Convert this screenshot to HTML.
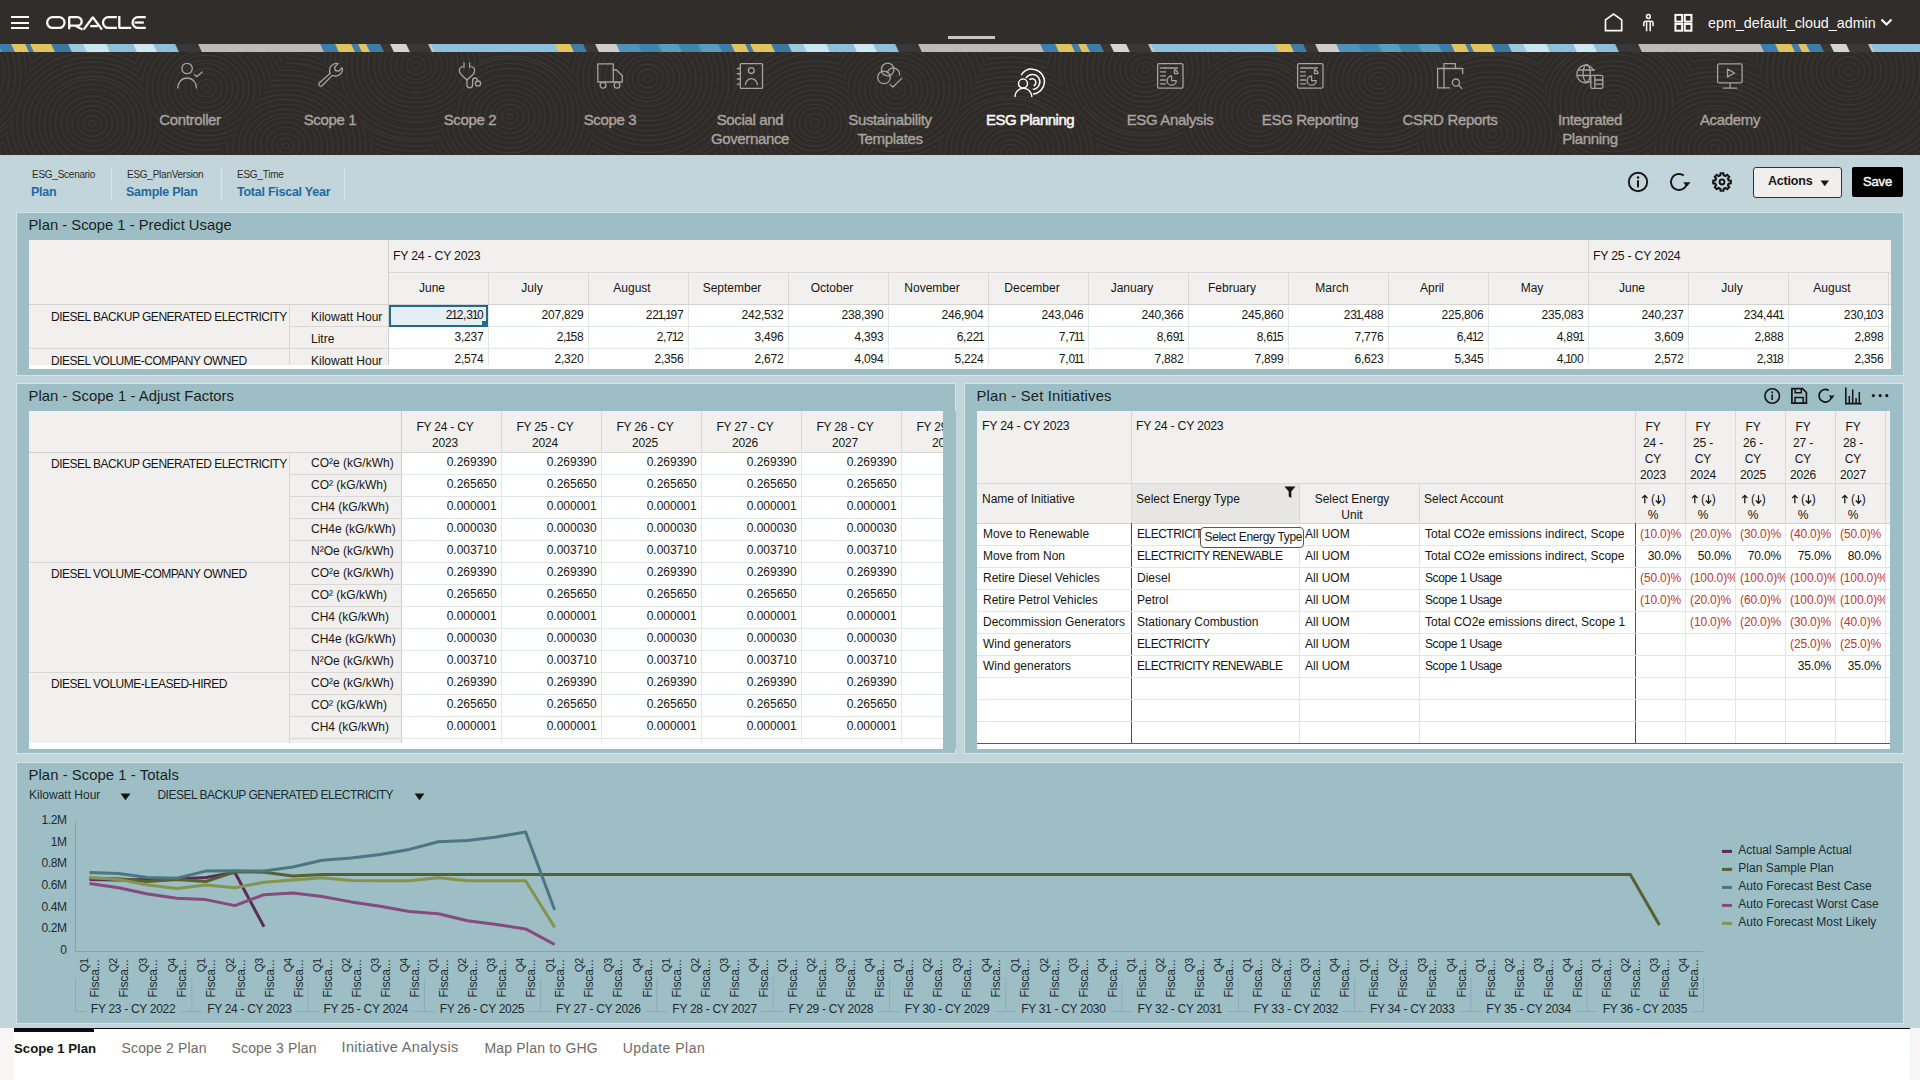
<!DOCTYPE html>
<html><head><meta charset="utf-8"><title>ESG Planning</title>
<style>
html,body{margin:0;padding:0;}
body{width:1920px;height:1080px;overflow:hidden;position:relative;background:#c1d5da;font-family:"Liberation Sans", sans-serif;color:#161513;}
.t{position:absolute;white-space:nowrap;}
.r{position:absolute;}
svg.r{overflow:visible;}
</style></head><body>
<div class="r" style="left:0px;top:0px;width:1920px;height:44px;background:#312d2a;"></div><div class="r" style="left:11px;top:16px;width:18px;height:2px;background:#fbf9f8;"></div><div class="r" style="left:11px;top:21.5px;width:18px;height:2px;background:#fbf9f8;"></div><div class="r" style="left:11px;top:27px;width:18px;height:2px;background:#fbf9f8;"></div><svg class="r" style="left:46px;top:16px;" width="100" height="14" viewBox="0 0 100 14"><g fill="none" stroke="#fbf9f8" stroke-width="2.3" stroke-linejoin="bevel">
<rect x="1.15" y="1.15" width="17.4" height="10.8" rx="5.4"/>
<path d="M23.2,13.2 V1.15 H31.4 A4.25,4.25 0 0 1 31.4,9.65 H24"/>
<path d="M29.3,9.65 L36.6,13.4"/>
<path d="M37.6,13.6 L46.8,1.3 L56,13.6"/>
<path d="M44.2,10.1 H51.8"/>
<path d="M70.9,1.15 H62.4 A5.4,5.4 0 0 0 62.4,11.95 H70.9"/>
<path d="M73.3,0 V11.95 H85.2"/>
<path d="M99.8,1.15 H92 A5.4,5.4 0 0 0 92,11.95 H99.8"/>
<path d="M88.6,6.55 H97.8"/>
</g></svg><div class="r" style="left:948px;top:36px;width:47px;height:3px;background:#c9c5c1;"></div><svg class="r" style="left:1603px;top:13px;" width="21" height="19" viewBox="0 0 21 19"><path d="M2.5,6.9 L10.6,1 L18.7,6.9 V17.6 H2.5 Z" fill="none" stroke="#fbf9f8" stroke-width="1.7" stroke-linejoin="miter"/></svg><svg class="r" style="left:1641px;top:13px;" width="14" height="19" viewBox="0 0 14 19"><g fill="none" stroke="#fbf9f8" stroke-width="1.5"><circle cx="7.4" cy="3.5" r="1.9"/><path d="M2.8,13.2 V10 A1.8,1.8 0 0 1 4.6,8.2 H10.2 A1.8,1.8 0 0 1 12,10 V13.2"/><path d="M5.6,8.5 V18.3 M9.2,8.5 V18.3"/></g></svg><svg class="r" style="left:1674px;top:13px;" width="19" height="19" viewBox="0 0 19 19"><g fill="none" stroke="#fbf9f8" stroke-width="2"><rect x="1.4" y="1.9" width="6.7" height="6.7"/><rect x="10.75" y="1.9" width="6.7" height="6.7"/><rect x="1.4" y="11" width="6.7" height="6.7"/><rect x="10.75" y="11" width="6.7" height="6.7"/></g></svg><div class="t" style="top:14.77px;font-size:14.3px;line-height:17.16px;color:#fbf9f8;left:1708px;">epm_default_cloud_admin</div><svg class="r" style="left:1880px;top:18px;" width="13" height="9" viewBox="0 0 13 9"><path d="M1.5,1.5 L6.5,6.5 L11.5,1.5" fill="none" stroke="#fbf9f8" stroke-width="2.2"/></svg><div class="r" style="left:0;top:44px;width:1920px;height:8px;overflow:hidden;"><div class="r" style="left:-10px;top:0;width:1940px;height:8px;transform:skewX(25deg);background:linear-gradient(90deg,#3d7ea8 0px,#3d7ea8 13px,#e0c35e 13px,#e0c35e 27px,#3d7ea8 27px,#3d7ea8 32px,#e0c35e 32px,#e0c35e 53px,#3b78a0 53px,#3b78a0 70px,#9cc7dd 70px,#9cc7dd 85px,#cbe4ef 85px,#cbe4ef 108px,#8fbfd8 108px,#8fbfd8 135px,#cfe6f0 135px,#cfe6f0 155px,#8fbfd8 155px,#8fbfd8 177px,#3a3836 177px,#3a3836 200px,#bdbbb8 200px,#bdbbb8 322px,#3d7ea8 322px,#3d7ea8 337px,#e0c35e 337px,#e0c35e 353px,#3d7ea8 353px,#3d7ea8 360px,#e0c35e 360px,#e0c35e 368px,#3d7ea8 368px,#3d7ea8 382px,#3a3836 382px,#3a3836 392px,#d6d4d1 392px,#d6d4d1 408px,#3a3836 408px,#3a3836 430px,#c9c7c4 430px,#c9c7c4 433px,#8fc0da 433px,#8fc0da 557px,#e6c65c 557px,#e6c65c 572px,#3d7ea8 572px,#3d7ea8 585px,#3a3836 585px,#3a3836 597px,#cfcdca 597px,#cfcdca 618px,#4f93ba 618px,#4f93ba 640px,#3f84ad 640px,#3f84ad 660px,#5b9dc2 660px,#5b9dc2 680px,#3f84ad 680px,#3f84ad 700px,#5a9cc0 700px,#5a9cc0 720px);background-size:720px 8px;background-repeat:repeat-x;background-position:10px 0;"></div></div><div class="r" style="left:0px;top:52px;width:1920px;height:103px;background:#2f2b28;"></div><svg class="r" style="left:0;top:52px;overflow:hidden;" width="1920" height="103" viewBox="0 0 1920 103"><defs><clipPath id="sw0"><polygon points="0.0,0.0 35.0,0.0 0.0,102.4"/></clipPath><clipPath id="sw1"><polygon points="35.0,0.0 132.6,0.0 164.5,103.0 0.0,103.0 0.0,102.4"/></clipPath><clipPath id="sw2"><polygon points="132.6,0.0 292.9,0.0 218.5,103.0 164.5,103.0"/></clipPath><clipPath id="sw3"><polygon points="292.9,0.0 317.9,0.0 381.3,103.0 218.5,103.0"/></clipPath><clipPath id="sw4"><polygon points="317.9,0.0 484.1,0.0 428.2,103.0 381.3,103.0"/></clipPath><clipPath id="sw5"><polygon points="484.1,0.0 566.3,0.0 594.6,103.0 428.2,103.0"/></clipPath><clipPath id="sw6"><polygon points="566.3,0.0 744.3,0.0 716.9,103.0 594.6,103.0"/></clipPath><clipPath id="sw7"><polygon points="744.3,0.0 833.5,0.0 875.3,103.0 716.9,103.0"/></clipPath><clipPath id="sw8"><polygon points="833.5,0.0 992.0,0.0 935.0,103.0 875.3,103.0"/></clipPath><clipPath id="sw9"><polygon points="992.0,0.0 1041.1,0.0 1105.0,103.0 935.0,103.0"/></clipPath><clipPath id="sw10"><polygon points="1041.1,0.0 1216.9,0.0 1177.2,103.0 1105.0,103.0"/></clipPath><clipPath id="sw11"><polygon points="1216.9,0.0 1306.4,0.0 1334.2,103.0 1177.2,103.0"/></clipPath><clipPath id="sw12"><polygon points="1306.4,0.0 1461.5,0.0 1413.3,103.0 1334.2,103.0"/></clipPath><clipPath id="sw13"><polygon points="1461.5,0.0 1536.2,0.0 1562.3,103.0 1413.3,103.0"/></clipPath><clipPath id="sw14"><polygon points="1536.2,0.0 1697.5,0.0 1651.2,103.0 1562.3,103.0"/></clipPath><clipPath id="sw15"><polygon points="1697.5,0.0 1748.6,0.0 1807.8,103.0 1651.2,103.0"/></clipPath><clipPath id="sw16"><polygon points="1748.6,0.0 1920.0,0.0 1920.0,103.0 1807.8,103.0"/></clipPath></defs><g fill="none" stroke="#3c3835" stroke-width="1.1"><path clip-path="url(#sw0)" d="M-56.9,21.5a3.0,2.6 0 1,0 5.9,0a3.0,2.6 0 1,0 -5.9,0M-62.4,21.5a8.5,7.4 0 1,0 16.9,0a8.5,7.4 0 1,0 -16.9,0M-67.9,21.5a14.0,12.3 0 1,0 27.9,0a14.0,12.3 0 1,0 -27.9,0M-73.4,21.5a19.5,17.1 0 1,0 39.0,0a19.5,17.1 0 1,0 -39.0,0M-79.0,21.5a25.0,22.0 0 1,0 50.0,0a25.0,22.0 0 1,0 -50.0,0M-84.5,21.5a30.5,26.8 0 1,0 61.0,0a30.5,26.8 0 1,0 -61.0,0M-90.0,21.5a36.0,31.7 0 1,0 72.0,0a36.0,31.7 0 1,0 -72.0,0M-95.5,21.5a41.5,36.5 0 1,0 83.0,0a41.5,36.5 0 1,0 -83.0,0M-101.0,21.5a47.0,41.4 0 1,0 94.0,0a47.0,41.4 0 1,0 -94.0,0M-106.5,21.5a52.5,46.2 0 1,0 105.1,0a52.5,46.2 0 1,0 -105.1,0M-112.0,21.5a58.0,51.0 0 1,0 116.1,0a58.0,51.0 0 1,0 -116.1,0M-117.5,21.5a63.5,55.9 0 1,0 127.1,0a63.5,55.9 0 1,0 -127.1,0M-123.0,21.5a69.1,60.7 0 1,0 138.1,0a69.1,60.7 0 1,0 -138.1,0M-128.5,21.5a74.6,65.6 0 1,0 149.1,0a74.6,65.6 0 1,0 -149.1,0M-134.0,21.5a80.1,70.4 0 1,0 160.1,0a80.1,70.4 0 1,0 -160.1,0M-139.5,21.5a85.6,75.3 0 1,0 171.2,0a85.6,75.3 0 1,0 -171.2,0M-145.0,21.5a91.1,80.1 0 1,0 182.2,0a91.1,80.1 0 1,0 -182.2,0M-150.6,21.5a96.6,85.0 0 1,0 193.2,0a96.6,85.0 0 1,0 -193.2,0M-156.1,21.5a102.1,89.8 0 1,0 204.2,0a102.1,89.8 0 1,0 -204.2,0"/><path clip-path="url(#sw1)" d="M88.6,71.4a3.6,3.2 0 1,0 7.2,0a3.6,3.2 0 1,0 -7.2,0M83.1,71.4a9.1,8.0 0 1,0 18.2,0a9.1,8.0 0 1,0 -18.2,0M77.6,71.4a14.6,12.9 0 1,0 29.2,0a14.6,12.9 0 1,0 -29.2,0M72.1,71.4a20.1,17.7 0 1,0 40.3,0a20.1,17.7 0 1,0 -40.3,0M66.6,71.4a25.6,22.5 0 1,0 51.3,0a25.6,22.5 0 1,0 -51.3,0M61.1,71.4a31.1,27.4 0 1,0 62.3,0a31.1,27.4 0 1,0 -62.3,0M55.6,71.4a36.7,32.2 0 1,0 73.3,0a36.7,32.2 0 1,0 -73.3,0M50.1,71.4a42.2,37.1 0 1,0 84.3,0a42.2,37.1 0 1,0 -84.3,0M44.6,71.4a47.7,41.9 0 1,0 95.3,0a47.7,41.9 0 1,0 -95.3,0M39.1,71.4a53.2,46.8 0 1,0 106.4,0a53.2,46.8 0 1,0 -106.4,0M33.6,71.4a58.7,51.6 0 1,0 117.4,0a58.7,51.6 0 1,0 -117.4,0M28.0,71.4a64.2,56.5 0 1,0 128.4,0a64.2,56.5 0 1,0 -128.4,0M22.5,71.4a69.7,61.3 0 1,0 139.4,0a69.7,61.3 0 1,0 -139.4,0M17.0,71.4a75.2,66.2 0 1,0 150.4,0a75.2,66.2 0 1,0 -150.4,0M11.5,71.4a80.7,71.0 0 1,0 161.4,0a80.7,71.0 0 1,0 -161.4,0M6.0,71.4a86.2,75.8 0 1,0 172.4,0a86.2,75.8 0 1,0 -172.4,0M0.5,71.4a91.7,80.7 0 1,0 183.5,0a91.7,80.7 0 1,0 -183.5,0M-5.0,71.4a97.2,85.5 0 1,0 194.5,0a97.2,85.5 0 1,0 -194.5,0M-10.5,71.4a102.7,90.4 0 1,0 205.5,0a102.7,90.4 0 1,0 -205.5,0"/><path clip-path="url(#sw2)" d="M201.9,36.2a4.3,3.8 0 1,0 8.7,0a4.3,3.8 0 1,0 -8.7,0M196.4,36.2a9.8,8.7 0 1,0 19.7,0a9.8,8.7 0 1,0 -19.7,0M190.9,36.2a15.4,13.5 0 1,0 30.7,0a15.4,13.5 0 1,0 -30.7,0M185.4,36.2a20.9,18.3 0 1,0 41.7,0a20.9,18.3 0 1,0 -41.7,0M179.8,36.2a26.4,23.2 0 1,0 52.7,0a26.4,23.2 0 1,0 -52.7,0M174.3,36.2a31.9,28.0 0 1,0 63.8,0a31.9,28.0 0 1,0 -63.8,0M168.8,36.2a37.4,32.9 0 1,0 74.8,0a37.4,32.9 0 1,0 -74.8,0M163.3,36.2a42.9,37.7 0 1,0 85.8,0a42.9,37.7 0 1,0 -85.8,0M157.8,36.2a48.4,42.6 0 1,0 96.8,0a48.4,42.6 0 1,0 -96.8,0M152.3,36.2a53.9,47.4 0 1,0 107.8,0a53.9,47.4 0 1,0 -107.8,0M146.8,36.2a59.4,52.3 0 1,0 118.8,0a59.4,52.3 0 1,0 -118.8,0M141.3,36.2a64.9,57.1 0 1,0 129.8,0a64.9,57.1 0 1,0 -129.8,0M135.8,36.2a70.4,62.0 0 1,0 140.9,0a70.4,62.0 0 1,0 -140.9,0M130.3,36.2a75.9,66.8 0 1,0 151.9,0a75.9,66.8 0 1,0 -151.9,0M124.8,36.2a81.4,71.6 0 1,0 162.9,0a81.4,71.6 0 1,0 -162.9,0M119.3,36.2a87.0,76.5 0 1,0 173.9,0a87.0,76.5 0 1,0 -173.9,0M113.7,36.2a92.5,81.3 0 1,0 184.9,0a92.5,81.3 0 1,0 -184.9,0M108.2,36.2a98.0,86.2 0 1,0 195.9,0a98.0,86.2 0 1,0 -195.9,0"/><path clip-path="url(#sw3)" d="M282.7,93.7a3.0,2.7 0 1,0 6.1,0a3.0,2.7 0 1,0 -6.1,0M277.2,93.7a8.5,7.5 0 1,0 17.1,0a8.5,7.5 0 1,0 -17.1,0M271.7,93.7a14.0,12.4 0 1,0 28.1,0a14.0,12.4 0 1,0 -28.1,0M266.2,93.7a19.6,17.2 0 1,0 39.1,0a19.6,17.2 0 1,0 -39.1,0M260.7,93.7a25.1,22.0 0 1,0 50.1,0a25.1,22.0 0 1,0 -50.1,0M255.2,93.7a30.6,26.9 0 1,0 61.1,0a30.6,26.9 0 1,0 -61.1,0M249.7,93.7a36.1,31.7 0 1,0 72.2,0a36.1,31.7 0 1,0 -72.2,0M244.2,93.7a41.6,36.6 0 1,0 83.2,0a41.6,36.6 0 1,0 -83.2,0M238.7,93.7a47.1,41.4 0 1,0 94.2,0a47.1,41.4 0 1,0 -94.2,0M233.2,93.7a52.6,46.3 0 1,0 105.2,0a52.6,46.3 0 1,0 -105.2,0M227.7,93.7a58.1,51.1 0 1,0 116.2,0a58.1,51.1 0 1,0 -116.2,0M222.2,93.7a63.6,56.0 0 1,0 127.2,0a63.6,56.0 0 1,0 -127.2,0M216.6,93.7a69.1,60.8 0 1,0 138.2,0a69.1,60.8 0 1,0 -138.2,0M211.1,93.7a74.6,65.6 0 1,0 149.3,0a74.6,65.6 0 1,0 -149.3,0M205.6,93.7a80.1,70.5 0 1,0 160.3,0a80.1,70.5 0 1,0 -160.3,0M200.1,93.7a85.6,75.3 0 1,0 171.3,0a85.6,75.3 0 1,0 -171.3,0M194.6,93.7a91.2,80.2 0 1,0 182.3,0a91.2,80.2 0 1,0 -182.3,0M189.1,93.7a96.7,85.0 0 1,0 193.3,0a96.7,85.0 0 1,0 -193.3,0M183.6,93.7a102.2,89.9 0 1,0 204.3,0a102.2,89.9 0 1,0 -204.3,0"/><path clip-path="url(#sw4)" d="M412.3,13.5a3.8,3.3 0 1,0 7.5,0a3.8,3.3 0 1,0 -7.5,0M406.8,13.5a9.3,8.1 0 1,0 18.5,0a9.3,8.1 0 1,0 -18.5,0M401.3,13.5a14.8,13.0 0 1,0 29.5,0a14.8,13.0 0 1,0 -29.5,0M395.8,13.5a20.3,17.8 0 1,0 40.6,0a20.3,17.8 0 1,0 -40.6,0M390.3,13.5a25.8,22.7 0 1,0 51.6,0a25.8,22.7 0 1,0 -51.6,0M384.7,13.5a31.3,27.5 0 1,0 62.6,0a31.3,27.5 0 1,0 -62.6,0M379.2,13.5a36.8,32.4 0 1,0 73.6,0a36.8,32.4 0 1,0 -73.6,0M373.7,13.5a42.3,37.2 0 1,0 84.6,0a42.3,37.2 0 1,0 -84.6,0M368.2,13.5a47.8,42.1 0 1,0 95.6,0a47.8,42.1 0 1,0 -95.6,0M362.7,13.5a53.3,46.9 0 1,0 106.7,0a53.3,46.9 0 1,0 -106.7,0M357.2,13.5a58.8,51.8 0 1,0 117.7,0a58.8,51.8 0 1,0 -117.7,0M351.7,13.5a64.3,56.6 0 1,0 128.7,0a64.3,56.6 0 1,0 -128.7,0M346.2,13.5a69.9,61.4 0 1,0 139.7,0a69.9,61.4 0 1,0 -139.7,0M340.7,13.5a75.4,66.3 0 1,0 150.7,0a75.4,66.3 0 1,0 -150.7,0M335.2,13.5a80.9,71.1 0 1,0 161.7,0a80.9,71.1 0 1,0 -161.7,0M329.7,13.5a86.4,76.0 0 1,0 172.8,0a86.4,76.0 0 1,0 -172.8,0M324.2,13.5a91.9,80.8 0 1,0 183.8,0a91.9,80.8 0 1,0 -183.8,0M318.6,13.5a97.4,85.7 0 1,0 194.8,0a97.4,85.7 0 1,0 -194.8,0M313.1,13.5a102.9,90.5 0 1,0 205.8,0a102.9,90.5 0 1,0 -205.8,0"/><path clip-path="url(#sw5)" d="M507.1,64.5a2.8,2.4 0 1,0 5.6,0a2.8,2.4 0 1,0 -5.6,0M501.6,64.5a8.3,7.3 0 1,0 16.6,0a8.3,7.3 0 1,0 -16.6,0M496.1,64.5a13.8,12.1 0 1,0 27.6,0a13.8,12.1 0 1,0 -27.6,0M490.6,64.5a19.3,17.0 0 1,0 38.6,0a19.3,17.0 0 1,0 -38.6,0M485.1,64.5a24.8,21.8 0 1,0 49.6,0a24.8,21.8 0 1,0 -49.6,0M479.5,64.5a30.3,26.7 0 1,0 60.6,0a30.3,26.7 0 1,0 -60.6,0M474.0,64.5a35.8,31.5 0 1,0 71.7,0a35.8,31.5 0 1,0 -71.7,0M468.5,64.5a41.3,36.4 0 1,0 82.7,0a41.3,36.4 0 1,0 -82.7,0M463.0,64.5a46.8,41.2 0 1,0 93.7,0a46.8,41.2 0 1,0 -93.7,0M457.5,64.5a52.4,46.1 0 1,0 104.7,0a52.4,46.1 0 1,0 -104.7,0M452.0,64.5a57.9,50.9 0 1,0 115.7,0a57.9,50.9 0 1,0 -115.7,0M446.5,64.5a63.4,55.7 0 1,0 126.7,0a63.4,55.7 0 1,0 -126.7,0M441.0,64.5a68.9,60.6 0 1,0 137.8,0a68.9,60.6 0 1,0 -137.8,0M435.5,64.5a74.4,65.4 0 1,0 148.8,0a74.4,65.4 0 1,0 -148.8,0M430.0,64.5a79.9,70.3 0 1,0 159.8,0a79.9,70.3 0 1,0 -159.8,0M424.5,64.5a85.4,75.1 0 1,0 170.8,0a85.4,75.1 0 1,0 -170.8,0M419.0,64.5a90.9,80.0 0 1,0 181.8,0a90.9,80.0 0 1,0 -181.8,0M413.5,64.5a96.4,84.8 0 1,0 192.8,0a96.4,84.8 0 1,0 -192.8,0"/><path clip-path="url(#sw6)" d="M643.6,26.5a4.1,3.6 0 1,0 8.3,0a4.1,3.6 0 1,0 -8.3,0M638.1,26.5a9.7,8.5 0 1,0 19.3,0a9.7,8.5 0 1,0 -19.3,0M632.6,26.5a15.2,13.3 0 1,0 30.3,0a15.2,13.3 0 1,0 -30.3,0M627.1,26.5a20.7,18.2 0 1,0 41.3,0a20.7,18.2 0 1,0 -41.3,0M621.6,26.5a26.2,23.0 0 1,0 52.4,0a26.2,23.0 0 1,0 -52.4,0M616.1,26.5a31.7,27.9 0 1,0 63.4,0a31.7,27.9 0 1,0 -63.4,0M610.6,26.5a37.2,32.7 0 1,0 74.4,0a37.2,32.7 0 1,0 -74.4,0M605.1,26.5a42.7,37.6 0 1,0 85.4,0a42.7,37.6 0 1,0 -85.4,0M599.6,26.5a48.2,42.4 0 1,0 96.4,0a48.2,42.4 0 1,0 -96.4,0M594.1,26.5a53.7,47.2 0 1,0 107.4,0a53.7,47.2 0 1,0 -107.4,0M588.5,26.5a59.2,52.1 0 1,0 118.4,0a59.2,52.1 0 1,0 -118.4,0M583.0,26.5a64.7,56.9 0 1,0 129.5,0a64.7,56.9 0 1,0 -129.5,0M577.5,26.5a70.2,61.8 0 1,0 140.5,0a70.2,61.8 0 1,0 -140.5,0M572.0,26.5a75.7,66.6 0 1,0 151.5,0a75.7,66.6 0 1,0 -151.5,0M566.5,26.5a81.3,71.5 0 1,0 162.5,0a81.3,71.5 0 1,0 -162.5,0M561.0,26.5a86.8,76.3 0 1,0 173.5,0a86.8,76.3 0 1,0 -173.5,0M555.5,26.5a92.3,81.2 0 1,0 184.5,0a92.3,81.2 0 1,0 -184.5,0M550.0,26.5a97.8,86.0 0 1,0 195.6,0a97.8,86.0 0 1,0 -195.6,0M544.5,26.5a103.3,90.9 0 1,0 206.6,0a103.3,90.9 0 1,0 -206.6,0M539.0,26.5a108.8,95.7 0 1,0 217.6,0a108.8,95.7 0 1,0 -217.6,0"/><path clip-path="url(#sw7)" d="M810.6,70.9a4.4,3.8 0 1,0 8.7,0a4.4,3.8 0 1,0 -8.7,0M805.1,70.9a9.9,8.7 0 1,0 19.7,0a9.9,8.7 0 1,0 -19.7,0M799.6,70.9a15.4,13.5 0 1,0 30.7,0a15.4,13.5 0 1,0 -30.7,0M794.1,70.9a20.9,18.4 0 1,0 41.8,0a20.9,18.4 0 1,0 -41.8,0M788.5,70.9a26.4,23.2 0 1,0 52.8,0a26.4,23.2 0 1,0 -52.8,0M783.0,70.9a31.9,28.1 0 1,0 63.8,0a31.9,28.1 0 1,0 -63.8,0M777.5,70.9a37.4,32.9 0 1,0 74.8,0a37.4,32.9 0 1,0 -74.8,0M772.0,70.9a42.9,37.7 0 1,0 85.8,0a42.9,37.7 0 1,0 -85.8,0M766.5,70.9a48.4,42.6 0 1,0 96.8,0a48.4,42.6 0 1,0 -96.8,0M761.0,70.9a53.9,47.4 0 1,0 107.8,0a53.9,47.4 0 1,0 -107.8,0M755.5,70.9a59.4,52.3 0 1,0 118.9,0a59.4,52.3 0 1,0 -118.9,0M750.0,70.9a64.9,57.1 0 1,0 129.9,0a64.9,57.1 0 1,0 -129.9,0M744.5,70.9a70.4,62.0 0 1,0 140.9,0a70.4,62.0 0 1,0 -140.9,0M739.0,70.9a76.0,66.8 0 1,0 151.9,0a76.0,66.8 0 1,0 -151.9,0M733.5,70.9a81.5,71.7 0 1,0 162.9,0a81.5,71.7 0 1,0 -162.9,0M728.0,70.9a87.0,76.5 0 1,0 173.9,0a87.0,76.5 0 1,0 -173.9,0M722.5,70.9a92.5,81.3 0 1,0 185.0,0a92.5,81.3 0 1,0 -185.0,0M716.9,70.9a98.0,86.2 0 1,0 196.0,0a98.0,86.2 0 1,0 -196.0,0M711.4,70.9a103.5,91.0 0 1,0 207.0,0a103.5,91.0 0 1,0 -207.0,0M705.9,70.9a109.0,95.9 0 1,0 218.0,0a109.0,95.9 0 1,0 -218.0,0"/><path clip-path="url(#sw8)" d="M892.3,37.9a3.9,3.5 0 1,0 7.9,0a3.9,3.5 0 1,0 -7.9,0M886.8,37.9a9.4,8.3 0 1,0 18.9,0a9.4,8.3 0 1,0 -18.9,0M881.3,37.9a15.0,13.2 0 1,0 29.9,0a15.0,13.2 0 1,0 -29.9,0M875.8,37.9a20.5,18.0 0 1,0 40.9,0a20.5,18.0 0 1,0 -40.9,0M870.3,37.9a26.0,22.8 0 1,0 51.9,0a26.0,22.8 0 1,0 -51.9,0M864.8,37.9a31.5,27.7 0 1,0 63.0,0a31.5,27.7 0 1,0 -63.0,0M859.2,37.9a37.0,32.5 0 1,0 74.0,0a37.0,32.5 0 1,0 -74.0,0M853.7,37.9a42.5,37.4 0 1,0 85.0,0a42.5,37.4 0 1,0 -85.0,0M848.2,37.9a48.0,42.2 0 1,0 96.0,0a48.0,42.2 0 1,0 -96.0,0M842.7,37.9a53.5,47.1 0 1,0 107.0,0a53.5,47.1 0 1,0 -107.0,0M837.2,37.9a59.0,51.9 0 1,0 118.0,0a59.0,51.9 0 1,0 -118.0,0M831.7,37.9a64.5,56.8 0 1,0 129.1,0a64.5,56.8 0 1,0 -129.1,0M826.2,37.9a70.0,61.6 0 1,0 140.1,0a70.0,61.6 0 1,0 -140.1,0M820.7,37.9a75.5,66.4 0 1,0 151.1,0a75.5,66.4 0 1,0 -151.1,0M815.2,37.9a81.0,71.3 0 1,0 162.1,0a81.0,71.3 0 1,0 -162.1,0M809.7,37.9a86.6,76.1 0 1,0 173.1,0a86.6,76.1 0 1,0 -173.1,0M804.2,37.9a92.1,81.0 0 1,0 184.1,0a92.1,81.0 0 1,0 -184.1,0M798.7,37.9a97.6,85.8 0 1,0 195.1,0a97.6,85.8 0 1,0 -195.1,0M793.2,37.9a103.1,90.7 0 1,0 206.2,0a103.1,90.7 0 1,0 -206.2,0M787.6,37.9a108.6,95.5 0 1,0 217.2,0a108.6,95.5 0 1,0 -217.2,0"/><path clip-path="url(#sw9)" d="M1006.1,101.3a4.6,4.0 0 1,0 9.2,0a4.6,4.0 0 1,0 -9.2,0M1000.6,101.3a10.1,8.9 0 1,0 20.2,0a10.1,8.9 0 1,0 -20.2,0M995.1,101.3a15.6,13.7 0 1,0 31.2,0a15.6,13.7 0 1,0 -31.2,0M989.6,101.3a21.1,18.6 0 1,0 42.2,0a21.1,18.6 0 1,0 -42.2,0M984.1,101.3a26.6,23.4 0 1,0 53.2,0a26.6,23.4 0 1,0 -53.2,0M978.6,101.3a32.1,28.3 0 1,0 64.3,0a32.1,28.3 0 1,0 -64.3,0M973.1,101.3a37.6,33.1 0 1,0 75.3,0a37.6,33.1 0 1,0 -75.3,0M967.6,101.3a43.1,38.0 0 1,0 86.3,0a43.1,38.0 0 1,0 -86.3,0M962.1,101.3a48.7,42.8 0 1,0 97.3,0a48.7,42.8 0 1,0 -97.3,0M956.6,101.3a54.2,47.6 0 1,0 108.3,0a54.2,47.6 0 1,0 -108.3,0M951.0,101.3a59.7,52.5 0 1,0 119.3,0a59.7,52.5 0 1,0 -119.3,0M945.5,101.3a65.2,57.3 0 1,0 130.4,0a65.2,57.3 0 1,0 -130.4,0M940.0,101.3a70.7,62.2 0 1,0 141.4,0a70.7,62.2 0 1,0 -141.4,0M934.5,101.3a76.2,67.0 0 1,0 152.4,0a76.2,67.0 0 1,0 -152.4,0M929.0,101.3a81.7,71.9 0 1,0 163.4,0a81.7,71.9 0 1,0 -163.4,0M923.5,101.3a87.2,76.7 0 1,0 174.4,0a87.2,76.7 0 1,0 -174.4,0M918.0,101.3a92.7,81.6 0 1,0 185.4,0a92.7,81.6 0 1,0 -185.4,0M912.5,101.3a98.2,86.4 0 1,0 196.5,0a98.2,86.4 0 1,0 -196.5,0M907.0,101.3a103.7,91.2 0 1,0 207.5,0a103.7,91.2 0 1,0 -207.5,0M901.5,101.3a109.2,96.1 0 1,0 218.5,0a109.2,96.1 0 1,0 -218.5,0"/><path clip-path="url(#sw10)" d="M1142.0,17.8a3.4,3.0 0 1,0 6.8,0a3.4,3.0 0 1,0 -6.8,0M1136.5,17.8a8.9,7.8 0 1,0 17.8,0a8.9,7.8 0 1,0 -17.8,0M1131.0,17.8a14.4,12.7 0 1,0 28.8,0a14.4,12.7 0 1,0 -28.8,0M1125.5,17.8a19.9,17.5 0 1,0 39.8,0a19.9,17.5 0 1,0 -39.8,0M1120.0,17.8a25.4,22.4 0 1,0 50.8,0a25.4,22.4 0 1,0 -50.8,0M1114.5,17.8a30.9,27.2 0 1,0 61.8,0a30.9,27.2 0 1,0 -61.8,0M1108.9,17.8a36.4,32.0 0 1,0 72.9,0a36.4,32.0 0 1,0 -72.9,0M1103.4,17.8a41.9,36.9 0 1,0 83.9,0a41.9,36.9 0 1,0 -83.9,0M1097.9,17.8a47.4,41.7 0 1,0 94.9,0a47.4,41.7 0 1,0 -94.9,0M1092.4,17.8a52.9,46.6 0 1,0 105.9,0a52.9,46.6 0 1,0 -105.9,0M1086.9,17.8a58.5,51.4 0 1,0 116.9,0a58.5,51.4 0 1,0 -116.9,0M1081.4,17.8a64.0,56.3 0 1,0 127.9,0a64.0,56.3 0 1,0 -127.9,0M1075.9,17.8a69.5,61.1 0 1,0 138.9,0a69.5,61.1 0 1,0 -138.9,0M1070.4,17.8a75.0,66.0 0 1,0 150.0,0a75.0,66.0 0 1,0 -150.0,0M1064.9,17.8a80.5,70.8 0 1,0 161.0,0a80.5,70.8 0 1,0 -161.0,0M1059.4,17.8a86.0,75.6 0 1,0 172.0,0a86.0,75.6 0 1,0 -172.0,0M1053.9,17.8a91.5,80.5 0 1,0 183.0,0a91.5,80.5 0 1,0 -183.0,0M1048.4,17.8a97.0,85.3 0 1,0 194.0,0a97.0,85.3 0 1,0 -194.0,0M1042.9,17.8a102.5,90.2 0 1,0 205.0,0a102.5,90.2 0 1,0 -205.0,0M1037.3,17.8a108.0,95.0 0 1,0 216.1,0a108.0,95.0 0 1,0 -216.1,0M1031.8,17.8a113.5,99.9 0 1,0 227.1,0a113.5,99.9 0 1,0 -227.1,0"/><path clip-path="url(#sw11)" d="M1253.8,61.3a4.2,3.7 0 1,0 8.4,0a4.2,3.7 0 1,0 -8.4,0M1248.3,61.3a9.7,8.5 0 1,0 19.4,0a9.7,8.5 0 1,0 -19.4,0M1242.8,61.3a15.2,13.4 0 1,0 30.4,0a15.2,13.4 0 1,0 -30.4,0M1237.3,61.3a20.7,18.2 0 1,0 41.5,0a20.7,18.2 0 1,0 -41.5,0M1231.8,61.3a26.2,23.1 0 1,0 52.5,0a26.2,23.1 0 1,0 -52.5,0M1226.2,61.3a31.7,27.9 0 1,0 63.5,0a31.7,27.9 0 1,0 -63.5,0M1220.7,61.3a37.2,32.8 0 1,0 74.5,0a37.2,32.8 0 1,0 -74.5,0M1215.2,61.3a42.8,37.6 0 1,0 85.5,0a42.8,37.6 0 1,0 -85.5,0M1209.7,61.3a48.3,42.5 0 1,0 96.5,0a48.3,42.5 0 1,0 -96.5,0M1204.2,61.3a53.8,47.3 0 1,0 107.5,0a53.8,47.3 0 1,0 -107.5,0M1198.7,61.3a59.3,52.1 0 1,0 118.6,0a59.3,52.1 0 1,0 -118.6,0M1193.2,61.3a64.8,57.0 0 1,0 129.6,0a64.8,57.0 0 1,0 -129.6,0M1187.7,61.3a70.3,61.8 0 1,0 140.6,0a70.3,61.8 0 1,0 -140.6,0M1182.2,61.3a75.8,66.7 0 1,0 151.6,0a75.8,66.7 0 1,0 -151.6,0M1176.7,61.3a81.3,71.5 0 1,0 162.6,0a81.3,71.5 0 1,0 -162.6,0M1171.2,61.3a86.8,76.4 0 1,0 173.6,0a86.8,76.4 0 1,0 -173.6,0M1165.7,61.3a92.3,81.2 0 1,0 184.7,0a92.3,81.2 0 1,0 -184.7,0M1160.1,61.3a97.8,86.1 0 1,0 195.7,0a97.8,86.1 0 1,0 -195.7,0"/><path clip-path="url(#sw12)" d="M1375.0,28.6a4.0,3.5 0 1,0 8.0,0a4.0,3.5 0 1,0 -8.0,0M1369.5,28.6a9.5,8.3 0 1,0 19.0,0a9.5,8.3 0 1,0 -19.0,0M1364.0,28.6a15.0,13.2 0 1,0 30.0,0a15.0,13.2 0 1,0 -30.0,0M1358.5,28.6a20.5,18.0 0 1,0 41.0,0a20.5,18.0 0 1,0 -41.0,0M1353.0,28.6a26.0,22.9 0 1,0 52.0,0a26.0,22.9 0 1,0 -52.0,0M1347.5,28.6a31.5,27.7 0 1,0 63.0,0a31.5,27.7 0 1,0 -63.0,0M1342.0,28.6a37.0,32.6 0 1,0 74.1,0a37.0,32.6 0 1,0 -74.1,0M1336.5,28.6a42.5,37.4 0 1,0 85.1,0a42.5,37.4 0 1,0 -85.1,0M1331.0,28.6a48.0,42.3 0 1,0 96.1,0a48.0,42.3 0 1,0 -96.1,0M1325.5,28.6a53.6,47.1 0 1,0 107.1,0a53.6,47.1 0 1,0 -107.1,0M1320.0,28.6a59.1,52.0 0 1,0 118.1,0a59.1,52.0 0 1,0 -118.1,0M1314.5,28.6a64.6,56.8 0 1,0 129.1,0a64.6,56.8 0 1,0 -129.1,0M1309.0,28.6a70.1,61.6 0 1,0 140.2,0a70.1,61.6 0 1,0 -140.2,0M1303.4,28.6a75.6,66.5 0 1,0 151.2,0a75.6,66.5 0 1,0 -151.2,0M1297.9,28.6a81.1,71.3 0 1,0 162.2,0a81.1,71.3 0 1,0 -162.2,0M1292.4,28.6a86.6,76.2 0 1,0 173.2,0a86.6,76.2 0 1,0 -173.2,0M1286.9,28.6a92.1,81.0 0 1,0 184.2,0a92.1,81.0 0 1,0 -184.2,0"/><path clip-path="url(#sw13)" d="M1488.4,81.7a4.0,3.5 0 1,0 7.9,0a4.0,3.5 0 1,0 -7.9,0M1482.9,81.7a9.5,8.3 0 1,0 18.9,0a9.5,8.3 0 1,0 -18.9,0M1477.4,81.7a15.0,13.2 0 1,0 29.9,0a15.0,13.2 0 1,0 -29.9,0M1471.9,81.7a20.5,18.0 0 1,0 41.0,0a20.5,18.0 0 1,0 -41.0,0M1466.4,81.7a26.0,22.9 0 1,0 52.0,0a26.0,22.9 0 1,0 -52.0,0M1460.8,81.7a31.5,27.7 0 1,0 63.0,0a31.5,27.7 0 1,0 -63.0,0M1455.3,81.7a37.0,32.5 0 1,0 74.0,0a37.0,32.5 0 1,0 -74.0,0M1449.8,81.7a42.5,37.4 0 1,0 85.0,0a42.5,37.4 0 1,0 -85.0,0M1444.3,81.7a48.0,42.2 0 1,0 96.0,0a48.0,42.2 0 1,0 -96.0,0M1438.8,81.7a53.5,47.1 0 1,0 107.0,0a53.5,47.1 0 1,0 -107.0,0M1433.3,81.7a59.0,51.9 0 1,0 118.1,0a59.0,51.9 0 1,0 -118.1,0M1427.8,81.7a64.5,56.8 0 1,0 129.1,0a64.5,56.8 0 1,0 -129.1,0M1422.3,81.7a70.0,61.6 0 1,0 140.1,0a70.0,61.6 0 1,0 -140.1,0M1416.8,81.7a75.6,66.5 0 1,0 151.1,0a75.6,66.5 0 1,0 -151.1,0M1411.3,81.7a81.1,71.3 0 1,0 162.1,0a81.1,71.3 0 1,0 -162.1,0M1405.8,81.7a86.6,76.2 0 1,0 173.1,0a86.6,76.2 0 1,0 -173.1,0M1400.3,81.7a92.1,81.0 0 1,0 184.2,0a92.1,81.0 0 1,0 -184.2,0M1394.7,81.7a97.6,85.8 0 1,0 195.2,0a97.6,85.8 0 1,0 -195.2,0"/><path clip-path="url(#sw14)" d="M1610.0,50.9a3.7,3.2 0 1,0 7.4,0a3.7,3.2 0 1,0 -7.4,0M1604.5,50.9a9.2,8.1 0 1,0 18.4,0a9.2,8.1 0 1,0 -18.4,0M1599.0,50.9a14.7,12.9 0 1,0 29.4,0a14.7,12.9 0 1,0 -29.4,0M1593.4,50.9a20.2,17.8 0 1,0 40.4,0a20.2,17.8 0 1,0 -40.4,0M1587.9,50.9a25.7,22.6 0 1,0 51.4,0a25.7,22.6 0 1,0 -51.4,0M1582.4,50.9a31.2,27.5 0 1,0 62.5,0a31.2,27.5 0 1,0 -62.5,0M1576.9,50.9a36.7,32.3 0 1,0 73.5,0a36.7,32.3 0 1,0 -73.5,0M1571.4,50.9a42.2,37.2 0 1,0 84.5,0a42.2,37.2 0 1,0 -84.5,0M1565.9,50.9a47.7,42.0 0 1,0 95.5,0a47.7,42.0 0 1,0 -95.5,0M1560.4,50.9a53.3,46.8 0 1,0 106.5,0a53.3,46.8 0 1,0 -106.5,0M1554.9,50.9a58.8,51.7 0 1,0 117.5,0a58.8,51.7 0 1,0 -117.5,0M1549.4,50.9a64.3,56.5 0 1,0 128.5,0a64.3,56.5 0 1,0 -128.5,0M1543.9,50.9a69.8,61.4 0 1,0 139.6,0a69.8,61.4 0 1,0 -139.6,0M1538.4,50.9a75.3,66.2 0 1,0 150.6,0a75.3,66.2 0 1,0 -150.6,0M1532.9,50.9a80.8,71.1 0 1,0 161.6,0a80.8,71.1 0 1,0 -161.6,0M1527.3,50.9a86.3,75.9 0 1,0 172.6,0a86.3,75.9 0 1,0 -172.6,0M1521.8,50.9a91.8,80.8 0 1,0 183.6,0a91.8,80.8 0 1,0 -183.6,0M1516.3,50.9a97.3,85.6 0 1,0 194.6,0a97.3,85.6 0 1,0 -194.6,0M1510.8,50.9a102.8,90.5 0 1,0 205.7,0a102.8,90.5 0 1,0 -205.7,0"/><path clip-path="url(#sw15)" d="M1710.6,96.5a4.5,4.0 0 1,0 9.0,0a4.5,4.0 0 1,0 -9.0,0M1705.1,96.5a10.0,8.8 0 1,0 20.0,0a10.0,8.8 0 1,0 -20.0,0M1699.6,96.5a15.5,13.7 0 1,0 31.1,0a15.5,13.7 0 1,0 -31.1,0M1694.1,96.5a21.0,18.5 0 1,0 42.1,0a21.0,18.5 0 1,0 -42.1,0M1688.6,96.5a26.5,23.4 0 1,0 53.1,0a26.5,23.4 0 1,0 -53.1,0M1683.1,96.5a32.1,28.2 0 1,0 64.1,0a32.1,28.2 0 1,0 -64.1,0M1677.6,96.5a37.6,33.0 0 1,0 75.1,0a37.6,33.0 0 1,0 -75.1,0M1672.1,96.5a43.1,37.9 0 1,0 86.1,0a43.1,37.9 0 1,0 -86.1,0M1666.5,96.5a48.6,42.7 0 1,0 97.2,0a48.6,42.7 0 1,0 -97.2,0M1661.0,96.5a54.1,47.6 0 1,0 108.2,0a54.1,47.6 0 1,0 -108.2,0M1655.5,96.5a59.6,52.4 0 1,0 119.2,0a59.6,52.4 0 1,0 -119.2,0M1650.0,96.5a65.1,57.3 0 1,0 130.2,0a65.1,57.3 0 1,0 -130.2,0M1644.5,96.5a70.6,62.1 0 1,0 141.2,0a70.6,62.1 0 1,0 -141.2,0M1639.0,96.5a76.1,67.0 0 1,0 152.2,0a76.1,67.0 0 1,0 -152.2,0M1633.5,96.5a81.6,71.8 0 1,0 163.3,0a81.6,71.8 0 1,0 -163.3,0M1628.0,96.5a87.1,76.6 0 1,0 174.3,0a87.1,76.6 0 1,0 -174.3,0M1622.5,96.5a92.6,81.5 0 1,0 185.3,0a92.6,81.5 0 1,0 -185.3,0M1617.0,96.5a98.2,86.3 0 1,0 196.3,0a98.2,86.3 0 1,0 -196.3,0M1611.5,96.5a103.7,91.2 0 1,0 207.3,0a103.7,91.2 0 1,0 -207.3,0M1606.0,96.5a109.2,96.0 0 1,0 218.3,0a109.2,96.0 0 1,0 -218.3,0"/><path clip-path="url(#sw16)" d="M1844.0,19.6a4.7,4.2 0 1,0 9.5,0a4.7,4.2 0 1,0 -9.5,0M1838.5,19.6a10.2,9.0 0 1,0 20.5,0a10.2,9.0 0 1,0 -20.5,0M1833.0,19.6a15.8,13.9 0 1,0 31.5,0a15.8,13.9 0 1,0 -31.5,0M1827.5,19.6a21.3,18.7 0 1,0 42.5,0a21.3,18.7 0 1,0 -42.5,0M1822.0,19.6a26.8,23.5 0 1,0 53.5,0a26.8,23.5 0 1,0 -53.5,0M1816.5,19.6a32.3,28.4 0 1,0 64.6,0a32.3,28.4 0 1,0 -64.6,0M1811.0,19.6a37.8,33.2 0 1,0 75.6,0a37.8,33.2 0 1,0 -75.6,0M1805.5,19.6a43.3,38.1 0 1,0 86.6,0a43.3,38.1 0 1,0 -86.6,0M1800.0,19.6a48.8,42.9 0 1,0 97.6,0a48.8,42.9 0 1,0 -97.6,0M1794.5,19.6a54.3,47.8 0 1,0 108.6,0a54.3,47.8 0 1,0 -108.6,0M1788.9,19.6a59.8,52.6 0 1,0 119.6,0a59.8,52.6 0 1,0 -119.6,0M1783.4,19.6a65.3,57.5 0 1,0 130.7,0a65.3,57.5 0 1,0 -130.7,0M1777.9,19.6a70.8,62.3 0 1,0 141.7,0a70.8,62.3 0 1,0 -141.7,0M1772.4,19.6a76.3,67.2 0 1,0 152.7,0a76.3,67.2 0 1,0 -152.7,0M1766.9,19.6a81.9,72.0 0 1,0 163.7,0a81.9,72.0 0 1,0 -163.7,0M1761.4,19.6a87.4,76.8 0 1,0 174.7,0a87.4,76.8 0 1,0 -174.7,0M1755.9,19.6a92.9,81.7 0 1,0 185.7,0a92.9,81.7 0 1,0 -185.7,0M1750.4,19.6a98.4,86.5 0 1,0 196.8,0a98.4,86.5 0 1,0 -196.8,0M1744.9,19.6a103.9,91.4 0 1,0 207.8,0a103.9,91.4 0 1,0 -207.8,0M1739.4,19.6a109.4,96.2 0 1,0 218.8,0a109.4,96.2 0 1,0 -218.8,0M1733.9,19.6a114.9,101.1 0 1,0 229.8,0a114.9,101.1 0 1,0 -229.8,0"/></g></svg><div class="t" style="top:110.80px;font-size:15px;line-height:18.00px;color:#aaa5a0;letter-spacing:-0.35px;left:120.00px;width:140px;text-align:center;-webkit-text-stroke:0.35px #aaa5a0;">Controller</div><div class="t" style="top:110.80px;font-size:15px;line-height:18.00px;color:#aaa5a0;letter-spacing:-0.35px;left:260.00px;width:140px;text-align:center;-webkit-text-stroke:0.35px #aaa5a0;">Scope 1</div><div class="t" style="top:110.80px;font-size:15px;line-height:18.00px;color:#aaa5a0;letter-spacing:-0.35px;left:400.00px;width:140px;text-align:center;-webkit-text-stroke:0.35px #aaa5a0;">Scope 2</div><div class="t" style="top:110.80px;font-size:15px;line-height:18.00px;color:#aaa5a0;letter-spacing:-0.35px;left:540.00px;width:140px;text-align:center;-webkit-text-stroke:0.35px #aaa5a0;">Scope 3</div><div class="t" style="top:110.80px;font-size:15px;line-height:18.00px;color:#aaa5a0;letter-spacing:-0.35px;left:680.00px;width:140px;text-align:center;-webkit-text-stroke:0.35px #aaa5a0;">Social and</div><div class="t" style="top:129.80px;font-size:15px;line-height:18.00px;color:#aaa5a0;letter-spacing:-0.35px;left:680.00px;width:140px;text-align:center;-webkit-text-stroke:0.35px #aaa5a0;">Governance</div><div class="t" style="top:110.80px;font-size:15px;line-height:18.00px;color:#aaa5a0;letter-spacing:-0.35px;left:820.00px;width:140px;text-align:center;-webkit-text-stroke:0.35px #aaa5a0;">Sustainability</div><div class="t" style="top:129.80px;font-size:15px;line-height:18.00px;color:#aaa5a0;letter-spacing:-0.35px;left:820.00px;width:140px;text-align:center;-webkit-text-stroke:0.35px #aaa5a0;">Templates</div><div class="t" style="top:110.80px;font-size:15px;line-height:18.00px;color:#fbf9f8;letter-spacing:-0.5px;left:960.00px;width:140px;text-align:center;-webkit-text-stroke:0.5px #fbf9f8;">ESG Planning</div><div class="t" style="top:110.80px;font-size:15px;line-height:18.00px;color:#aaa5a0;letter-spacing:-0.35px;left:1100.00px;width:140px;text-align:center;-webkit-text-stroke:0.35px #aaa5a0;">ESG Analysis</div><div class="t" style="top:110.80px;font-size:15px;line-height:18.00px;color:#aaa5a0;letter-spacing:-0.35px;left:1240.00px;width:140px;text-align:center;-webkit-text-stroke:0.35px #aaa5a0;">ESG Reporting</div><div class="t" style="top:110.80px;font-size:15px;line-height:18.00px;color:#aaa5a0;letter-spacing:-0.35px;left:1380.00px;width:140px;text-align:center;-webkit-text-stroke:0.35px #aaa5a0;">CSRD Reports</div><div class="t" style="top:110.80px;font-size:15px;line-height:18.00px;color:#aaa5a0;letter-spacing:-0.35px;left:1520.00px;width:140px;text-align:center;-webkit-text-stroke:0.35px #aaa5a0;">Integrated</div><div class="t" style="top:129.80px;font-size:15px;line-height:18.00px;color:#aaa5a0;letter-spacing:-0.35px;left:1520.00px;width:140px;text-align:center;-webkit-text-stroke:0.35px #aaa5a0;">Planning</div><div class="t" style="top:110.80px;font-size:15px;line-height:18.00px;color:#aaa5a0;letter-spacing:-0.35px;left:1660.00px;width:140px;text-align:center;-webkit-text-stroke:0.35px #aaa5a0;">Academy</div><svg class="r" style="left:177px;top:63px;" width="28" height="30" viewBox="0 0 28 30"><g fill="none" stroke="#a8a39e" stroke-width="1.3" stroke-linecap="round" stroke-linejoin="round"><circle cx="10.1" cy="5.5" r="5.2"/><path d="M0.7,25 A9.4,10 0 0 1 19.5,25"/><path d="M17.4,11.8 L20,13.6 L25.2,8.9"/></g></svg><svg class="r" style="left:317px;top:62px;" width="28" height="30" viewBox="0 0 28 30"><g fill="none" stroke="#a8a39e" stroke-width="1.3" stroke-linecap="round" stroke-linejoin="round"><path d="M13.2,11.2 A7,7 0 0 1 21.2,1.6 L17.6,5.2 L18.3,8.5 L21.6,9.2 L25.2,5.6 A7,7 0 0 1 15.4,13.4 L5,23.8 A2,2 0 0 1 2.2,21 Z"/></g></svg><svg class="r" style="left:457px;top:62px;" width="28" height="30" viewBox="0 0 28 30"><g fill="none" stroke="#a8a39e" stroke-width="1.3" stroke-linecap="round" stroke-linejoin="round"><path d="M7,1 V5.5 M12.7,1 V5.5"/><path d="M5.5,4.5 C1.5,6 1.5,10 4.5,13 L10,18 L15.5,13 C18.5,10 18.5,6 14.5,4.5"/><path d="M10,18 V23 A2.8,2.8 0 0 0 15.6,23 V18.5 A2.5,2.5 0 0 1 20.6,18.5 V18.8"/><circle cx="21" cy="21.6" r="2.6"/></g></svg><svg class="r" style="left:597px;top:63px;" width="28" height="30" viewBox="0 0 28 30"><g fill="none" stroke="#a8a39e" stroke-width="1.3" stroke-linecap="round" stroke-linejoin="round"><path d="M0.8,0.8 H16.3 V19 H0.8 Z"/><path d="M16.3,7 H19.5 L25.3,12.8 V19 H16.3"/><circle cx="6" cy="22.3" r="2.9"/><circle cx="20" cy="22.3" r="2.9"/></g></svg><svg class="r" style="left:737px;top:63px;" width="28" height="30" viewBox="0 0 28 30"><g fill="none" stroke="#a8a39e" stroke-width="1.3" stroke-linecap="round" stroke-linejoin="round"><rect x="3.3" y="0.6" width="22.2" height="24.8" rx="1"/><path d="M0.3,5.5 H3.3 M0.3,10.75 H3.3 M0.3,16 H3.3 M0.3,21.2 H3.3"/><circle cx="14.3" cy="7.6" r="2.9"/><path d="M8.5,21.7 A5.9,6 0 0 1 20.3,21.7"/></g></svg><svg class="r" style="left:877px;top:63px;" width="28" height="30" viewBox="0 0 28 30"><g fill="none" stroke="#a8a39e" stroke-width="1.3" stroke-linecap="round" stroke-linejoin="round"><circle cx="10.7" cy="6.5" r="6.3"/><circle cx="7" cy="14.4" r="6.3"/><path d="M10.2,9.8 A6.3,6.3 0 0 1 22.6,11.8"/><path d="M13.3,21.7 L15.9,24 L24.8,15.4"/></g></svg><svg class="r" style="left:1014px;top:67px;" width="34" height="34" viewBox="0 0 34 34"><g fill="none" stroke="#fbf9f8" stroke-width="1.5" stroke-linecap="round" stroke-linejoin="round"><circle cx="9" cy="16.6" r="4.5"/><path d="M1,29.6 A8.4,8.4 0 0 1 17.8,29.6"/><path d="M7.5,7.6 A12.5,12.5 0 1 1 19.6,27"/><path d="M12.2,10.6 A7.5,7.5 0 1 1 19.5,22.3"/><path d="M15.9,12.3 A3.8,3.8 0 1 1 20.2,18.6"/></g></svg><svg class="r" style="left:1157px;top:63px;" width="28" height="30" viewBox="0 0 28 30"><g fill="none" stroke="#a8a39e" stroke-width="1.3" stroke-linecap="round" stroke-linejoin="round"><rect x="0.6" y="0.6" width="25.4" height="24.6" rx="1.5"/><path d="M3.5,5 H20.5 M3.5,8.8 H8.5 M3.5,12.8 H8.5 M3.5,17 H8.5 M3.5,20.8 H8.5"/><path d="M14.6,13 A4.6,4.6 0 1 0 19.3,17.6 H14.6 Z"/><path d="M17.4,7 A3.5,3.5 0 0 1 21,10.6 H17.4 Z"/></g></svg><svg class="r" style="left:1297px;top:63px;" width="28" height="30" viewBox="0 0 28 30"><g fill="none" stroke="#a8a39e" stroke-width="1.3" stroke-linecap="round" stroke-linejoin="round"><rect x="0.6" y="0.6" width="25.4" height="24.6" rx="1.5"/><path d="M3.5,5 H20.5 M3.5,8.8 H8.5 M3.5,12.8 H8.5 M3.5,17 H8.5 M3.5,20.8 H8.5"/><path d="M14.6,13 A4.6,4.6 0 1 0 19.3,17.6 H14.6 Z"/><path d="M17.4,7 A3.5,3.5 0 0 1 21,10.6 H17.4 Z"/></g></svg><svg class="r" style="left:1437px;top:63px;" width="28" height="30" viewBox="0 0 28 30"><g fill="none" stroke="#a8a39e" stroke-width="1.3" stroke-linecap="round" stroke-linejoin="round"><path d="M7,5.5 V0.6 H18.4 V5.5"/><path d="M25.7,10.7 V5.5 H0.6 V24.8 H12.7"/><path d="M7,5.5 V24.8"/><circle cx="18.9" cy="19.6" r="3.6"/><path d="M21.6,22.3 L24.7,25.2"/></g></svg><svg class="r" style="left:1577px;top:63px;" width="28" height="30" viewBox="0 0 28 30"><g fill="none" stroke="#a8a39e" stroke-width="1.3" stroke-linecap="round" stroke-linejoin="round"><path d="M13.8,18.2 A8.8,8.8 0 1 1 16.5,7"/><ellipse cx="9.7" cy="10.2" rx="3.6" ry="8.8"/><path d="M1.5,7 H17.5 M1,12.5 H12.5"/><rect x="13.8" y="12.3" width="12" height="13" rx="1.3"/><path d="M17.8,12.3 V25.3 M17.8,17 H25.8 M17.8,21.2 H25.8"/></g></svg><svg class="r" style="left:1717px;top:63px;" width="28" height="30" viewBox="0 0 28 30"><g fill="none" stroke="#a8a39e" stroke-width="1.3" stroke-linecap="round" stroke-linejoin="round"><rect x="0.6" y="0.9" width="24.5" height="19" rx="1.5"/><path d="M13.1,19.9 V25.1 M6.3,25.1 H19.9"/><path d="M10.5,6.1 V13.9 L17.6,10 Z"/></g></svg><div class="t" style="top:168.53px;font-size:10px;line-height:12.00px;color:#2e2c2a;letter-spacing:-0.25px;left:32px;">ESG_Scenario</div><div class="t" style="top:184.97px;font-size:12.5px;line-height:15.00px;color:#1d6aa1;font-weight:bold;letter-spacing:-0.25px;left:31px;">Plan</div><div class="t" style="top:168.53px;font-size:10px;line-height:12.00px;color:#2e2c2a;letter-spacing:-0.25px;left:127px;">ESG_PlanVersion</div><div class="t" style="top:184.97px;font-size:12.5px;line-height:15.00px;color:#1d6aa1;font-weight:bold;letter-spacing:-0.25px;left:126px;">Sample Plan</div><div class="t" style="top:168.53px;font-size:10px;line-height:12.00px;color:#2e2c2a;letter-spacing:-0.25px;left:237px;">ESG_Time</div><div class="t" style="top:184.97px;font-size:12.5px;line-height:15.00px;color:#1d6aa1;font-weight:bold;letter-spacing:-0.25px;left:237px;">Total Fiscal Year</div><div class="r" style="left:111px;top:168px;width:1px;height:32px;background:#d9e6ea;"></div><div class="r" style="left:221px;top:168px;width:1px;height:32px;background:#d9e6ea;"></div><div class="r" style="left:344px;top:168px;width:1px;height:32px;background:#d9e6ea;"></div><svg class="r" style="left:1627px;top:171px;" width="22" height="22" viewBox="0 0 22 22"><circle cx="11" cy="11" r="9.2" fill="none" stroke="#161513" stroke-width="1.9"/><rect x="10" y="9.3" width="2" height="7" fill="#161513"/><circle cx="11" cy="6.5" r="1.25" fill="#161513"/></svg><svg class="r" style="left:1668px;top:171px;" width="23" height="22" viewBox="0 0 23 22"><path d="M15.8,4.6 A8,8 0 1 0 18.9,12" fill="none" stroke="#161513" stroke-width="1.9"/><path d="M15.2,11.2 H22.6 L18.9,15.6 Z" fill="#161513"/></svg><svg class="r" style="left:1711px;top:171px;" width="22" height="22" viewBox="0 0 22 22"><g fill="none" stroke="#161513" stroke-width="2"><circle cx="11" cy="11" r="2.4"/></g><g fill="none" stroke="#161513" stroke-width="2.6">
<path d="M9.3,1.5 H12.7 L13.2,4.2 L15.3,5.2 L17.6,3.6 L20,6 L18.4,8.3 L19.3,10.4 L22,10.9 V14.1 L19.3,14.6 L18.4,16.7 L20,19 L17.6,21.4 L15.3,19.8 L13.2,20.8 L12.7,23.5 H9.3 L8.8,20.8 L6.7,19.8 L4.4,21.4 L2,19 L3.6,16.7 L2.7,14.6 L0,14.1 V10.9 L2.7,10.4 L3.6,8.3 L2,6 L4.4,3.6 L6.7,5.2 L8.8,4.2 Z" transform="translate(2.2,1) scale(0.8)"/></g></svg><div class="r" style="left:1753px;top:167px;width:89px;height:31px;background:#f1efed;border:1px solid #2e3336;border-radius:3px;box-sizing:border-box;"></div><div class="t" style="top:174.17px;font-size:12.5px;line-height:15.00px;color:#161513;font-weight:bold;letter-spacing:-0.2px;left:1768px;">Actions</div><svg class="r" style="left:1820px;top:180px;" width="10" height="7" viewBox="0 0 10 7"><path d="M0.5,0.5 H9 L4.75,6.2 Z" fill="#161513"/></svg><div class="r" style="left:1852px;top:167px;width:51px;height:30px;background:#000;border-radius:2px;"></div><div class="t" style="top:173.70px;font-size:13px;line-height:15.60px;color:#fbf9f8;letter-spacing:-0.1px;left:1852.00px;width:51px;text-align:center;-webkit-text-stroke:0.45px #fbf9f8;">Save</div><div class="r" style="left:16px;top:212px;width:1888px;height:164px;background:#9ebec6;border:1px solid #d4e5ea;box-sizing:border-box;"></div><div class="t" style="top:217.19px;font-size:14.8px;line-height:17.76px;color:#1a1e20;letter-spacing:0.0px;left:28.5px;">Plan - Scope 1 - Predict Usage</div><div class="r" style="left:16px;top:383px;width:940px;height:371px;background:#9ebec6;border:1px solid #d4e5ea;box-sizing:border-box;"></div><div class="t" style="top:388.19px;font-size:14.8px;line-height:17.76px;color:#1a1e20;letter-spacing:0.05px;left:28.5px;">Plan - Scope 1 - Adjust Factors</div><div class="r" style="left:964px;top:383px;width:940px;height:371px;background:#9ebec6;border:1px solid #d4e5ea;box-sizing:border-box;"></div><div class="t" style="top:388.19px;font-size:14.8px;line-height:17.76px;color:#1a1e20;letter-spacing:0.2px;left:976.5px;">Plan - Set Initiatives</div><div class="r" style="left:16px;top:762px;width:1888px;height:262px;background:#9ebec6;border:1px solid #d4e5ea;box-sizing:border-box;"></div><div class="t" style="top:767.19px;font-size:14.8px;line-height:17.76px;color:#1a1e20;letter-spacing:0.08px;left:28.5px;">Plan - Scope 1 - Totals</div><div class="r" style="left:0px;top:1028px;width:1920px;height:52px;background:#f8f6f4;"></div><div class="r" style="left:14px;top:1028px;width:1896px;height:52px;background:#ffffff;"></div><div class="r" style="left:14px;top:1028px;width:1896px;height:1px;background:#0b0b0b;"></div><div class="r" style="left:14px;top:1028px;width:80px;height:4px;background:#0b0b0b;"></div><div class="t" style="top:1040.51px;font-size:13.2px;line-height:15.84px;color:#161513;font-weight:bold;letter-spacing:0px;left:14px;">Scope 1 Plan</div><div class="t" style="top:1039.75px;font-size:14px;line-height:16.80px;color:#6f6b67;letter-spacing:0.15px;left:121.5px;">Scope 2 Plan</div><div class="t" style="top:1039.75px;font-size:14px;line-height:16.80px;color:#6f6b67;letter-spacing:0.15px;left:231.5px;">Scope 3 Plan</div><div class="t" style="top:1039.28px;font-size:14.5px;line-height:17.40px;color:#6f6b67;letter-spacing:0.35px;left:341.5px;">Initiative Analysis</div><div class="t" style="top:1039.75px;font-size:14px;line-height:16.80px;color:#6f6b67;letter-spacing:0.2px;left:484.4px;">Map Plan to GHG</div><div class="t" style="top:1039.75px;font-size:14px;line-height:16.80px;color:#6f6b67;letter-spacing:0.5px;left:622.7px;">Update Plan</div><div class="r" style="left:29px;top:240px;width:1862px;height:129px;background:#ffffff;"></div><div class="r" style="left:29px;top:240px;width:1862px;height:64px;background:#f2f0ee;"></div><div class="r" style="left:29px;top:305px;width:359px;height:60px;background:#f2f0ee;"></div><div class="r" style="left:388px;top:240px;width:1px;height:125px;background:#cfcecc;"></div><div class="r" style="left:389px;top:272px;width:1502px;height:1px;background:#d9d8d6;"></div><div class="r" style="left:1588px;top:240px;width:1px;height:32px;background:#d9d8d6;"></div><div class="r" style="left:488px;top:273px;width:1px;height:31px;background:#d9d8d6;"></div><div class="r" style="left:488px;top:305px;width:1px;height:60px;background:#e0e5e8;"></div><div class="r" style="left:588px;top:273px;width:1px;height:31px;background:#d9d8d6;"></div><div class="r" style="left:588px;top:305px;width:1px;height:60px;background:#e0e5e8;"></div><div class="r" style="left:688px;top:273px;width:1px;height:31px;background:#d9d8d6;"></div><div class="r" style="left:688px;top:305px;width:1px;height:60px;background:#e0e5e8;"></div><div class="r" style="left:788px;top:273px;width:1px;height:31px;background:#d9d8d6;"></div><div class="r" style="left:788px;top:305px;width:1px;height:60px;background:#e0e5e8;"></div><div class="r" style="left:888px;top:273px;width:1px;height:31px;background:#d9d8d6;"></div><div class="r" style="left:888px;top:305px;width:1px;height:60px;background:#e0e5e8;"></div><div class="r" style="left:988px;top:273px;width:1px;height:31px;background:#d9d8d6;"></div><div class="r" style="left:988px;top:305px;width:1px;height:60px;background:#e0e5e8;"></div><div class="r" style="left:1088px;top:273px;width:1px;height:31px;background:#d9d8d6;"></div><div class="r" style="left:1088px;top:305px;width:1px;height:60px;background:#e0e5e8;"></div><div class="r" style="left:1188px;top:273px;width:1px;height:31px;background:#d9d8d6;"></div><div class="r" style="left:1188px;top:305px;width:1px;height:60px;background:#e0e5e8;"></div><div class="r" style="left:1288px;top:273px;width:1px;height:31px;background:#d9d8d6;"></div><div class="r" style="left:1288px;top:305px;width:1px;height:60px;background:#e0e5e8;"></div><div class="r" style="left:1388px;top:273px;width:1px;height:31px;background:#d9d8d6;"></div><div class="r" style="left:1388px;top:305px;width:1px;height:60px;background:#e0e5e8;"></div><div class="r" style="left:1488px;top:273px;width:1px;height:31px;background:#d9d8d6;"></div><div class="r" style="left:1488px;top:305px;width:1px;height:60px;background:#e0e5e8;"></div><div class="r" style="left:1588px;top:273px;width:1px;height:31px;background:#d9d8d6;"></div><div class="r" style="left:1588px;top:305px;width:1px;height:60px;background:#e0e5e8;"></div><div class="r" style="left:1688px;top:273px;width:1px;height:31px;background:#d9d8d6;"></div><div class="r" style="left:1688px;top:305px;width:1px;height:60px;background:#e0e5e8;"></div><div class="r" style="left:1788px;top:273px;width:1px;height:31px;background:#d9d8d6;"></div><div class="r" style="left:1788px;top:305px;width:1px;height:60px;background:#e0e5e8;"></div><div class="r" style="left:1888px;top:273px;width:1px;height:31px;background:#d9d8d6;"></div><div class="r" style="left:1888px;top:305px;width:1px;height:60px;background:#e0e5e8;"></div><div class="r" style="left:29px;top:304px;width:1862px;height:1px;background:#d3d2d0;"></div><div class="r" style="left:389px;top:326px;width:1502px;height:1px;background:#e0e5e8;"></div><div class="r" style="left:389px;top:348px;width:1502px;height:1px;background:#e0e5e8;"></div><div class="r" style="left:289px;top:326px;width:99px;height:1px;background:#d9d8d6;"></div><div class="r" style="left:29px;top:348px;width:359px;height:1px;background:#d9d8d6;"></div><div class="r" style="left:289px;top:305px;width:1px;height:60px;background:#d9d8d6;"></div><div class="t" style="top:248.66px;font-size:12.3px;line-height:14.76px;color:#161513;letter-spacing:-0.25px;left:393px;">FY 24 - CY 2023</div><div class="t" style="top:248.66px;font-size:12.3px;line-height:14.76px;color:#161513;letter-spacing:-0.25px;left:1593px;">FY 25 - CY 2024</div><div class="t" style="top:280.64px;font-size:12px;line-height:14.40px;color:#161513;left:382.00px;width:100px;text-align:center;">June</div><div class="t" style="top:280.64px;font-size:12px;line-height:14.40px;color:#161513;left:482.00px;width:100px;text-align:center;">July</div><div class="t" style="top:280.64px;font-size:12px;line-height:14.40px;color:#161513;left:582.00px;width:100px;text-align:center;">August</div><div class="t" style="top:280.64px;font-size:12px;line-height:14.40px;color:#161513;left:682.00px;width:100px;text-align:center;">September</div><div class="t" style="top:280.64px;font-size:12px;line-height:14.40px;color:#161513;left:782.00px;width:100px;text-align:center;">October</div><div class="t" style="top:280.64px;font-size:12px;line-height:14.40px;color:#161513;left:882.00px;width:100px;text-align:center;">November</div><div class="t" style="top:280.64px;font-size:12px;line-height:14.40px;color:#161513;left:982.00px;width:100px;text-align:center;">December</div><div class="t" style="top:280.64px;font-size:12px;line-height:14.40px;color:#161513;left:1082.00px;width:100px;text-align:center;">January</div><div class="t" style="top:280.64px;font-size:12px;line-height:14.40px;color:#161513;left:1182.00px;width:100px;text-align:center;">February</div><div class="t" style="top:280.64px;font-size:12px;line-height:14.40px;color:#161513;left:1282.00px;width:100px;text-align:center;">March</div><div class="t" style="top:280.64px;font-size:12px;line-height:14.40px;color:#161513;left:1382.00px;width:100px;text-align:center;">April</div><div class="t" style="top:280.64px;font-size:12px;line-height:14.40px;color:#161513;left:1482.00px;width:100px;text-align:center;">May</div><div class="t" style="top:280.64px;font-size:12px;line-height:14.40px;color:#161513;left:1582.00px;width:100px;text-align:center;">June</div><div class="t" style="top:280.64px;font-size:12px;line-height:14.40px;color:#161513;left:1682.00px;width:100px;text-align:center;">July</div><div class="t" style="top:280.64px;font-size:12px;line-height:14.40px;color:#161513;left:1782.00px;width:100px;text-align:center;">August</div><div class="r" style="left:389px;top:305px;width:99px;height:22px;background:#e3eef5;border:2px solid #1f6b8c;box-sizing:border-box;"></div><div class="r" style="left:482px;top:321px;width:6px;height:6px;background:#1f6b8c;"></div><div class="t" style="top:308.24px;font-size:12px;line-height:14.40px;color:#161513;letter-spacing:-0.2px;right:1436.5px;text-align:right;">2<span style="margin:0 -1.1px">1</span>2,3<span style="margin:0 -1.1px">1</span>0</div><div class="t" style="top:330.14px;font-size:12px;line-height:14.40px;color:#161513;letter-spacing:-0.2px;right:1436.5px;text-align:right;">3,237</div><div class="t" style="top:352.14px;font-size:12px;line-height:14.40px;color:#161513;clip-path:inset(0 -50px 1.54px -50px);letter-spacing:-0.2px;right:1436.5px;text-align:right;">2,574</div><div class="t" style="top:308.24px;font-size:12px;line-height:14.40px;color:#161513;letter-spacing:-0.2px;right:1336.5px;text-align:right;">207,829</div><div class="t" style="top:330.14px;font-size:12px;line-height:14.40px;color:#161513;letter-spacing:-0.2px;right:1336.5px;text-align:right;">2,<span style="margin:0 -1.1px">1</span>58</div><div class="t" style="top:352.14px;font-size:12px;line-height:14.40px;color:#161513;clip-path:inset(0 -50px 1.54px -50px);letter-spacing:-0.2px;right:1336.5px;text-align:right;">2,320</div><div class="t" style="top:308.24px;font-size:12px;line-height:14.40px;color:#161513;letter-spacing:-0.2px;right:1236.5px;text-align:right;">22<span style="margin:0 -1.1px">1</span>,<span style="margin:0 -1.1px">1</span>97</div><div class="t" style="top:330.14px;font-size:12px;line-height:14.40px;color:#161513;letter-spacing:-0.2px;right:1236.5px;text-align:right;">2,7<span style="margin:0 -1.1px">1</span>2</div><div class="t" style="top:352.14px;font-size:12px;line-height:14.40px;color:#161513;clip-path:inset(0 -50px 1.54px -50px);letter-spacing:-0.2px;right:1236.5px;text-align:right;">2,356</div><div class="t" style="top:308.24px;font-size:12px;line-height:14.40px;color:#161513;letter-spacing:-0.2px;right:1136.5px;text-align:right;">242,532</div><div class="t" style="top:330.14px;font-size:12px;line-height:14.40px;color:#161513;letter-spacing:-0.2px;right:1136.5px;text-align:right;">3,496</div><div class="t" style="top:352.14px;font-size:12px;line-height:14.40px;color:#161513;clip-path:inset(0 -50px 1.54px -50px);letter-spacing:-0.2px;right:1136.5px;text-align:right;">2,672</div><div class="t" style="top:308.24px;font-size:12px;line-height:14.40px;color:#161513;letter-spacing:-0.2px;right:1036.5px;text-align:right;">238,390</div><div class="t" style="top:330.14px;font-size:12px;line-height:14.40px;color:#161513;letter-spacing:-0.2px;right:1036.5px;text-align:right;">4,393</div><div class="t" style="top:352.14px;font-size:12px;line-height:14.40px;color:#161513;clip-path:inset(0 -50px 1.54px -50px);letter-spacing:-0.2px;right:1036.5px;text-align:right;">4,094</div><div class="t" style="top:308.24px;font-size:12px;line-height:14.40px;color:#161513;letter-spacing:-0.2px;right:936.5px;text-align:right;">246,904</div><div class="t" style="top:330.14px;font-size:12px;line-height:14.40px;color:#161513;letter-spacing:-0.2px;right:936.5px;text-align:right;">6,22<span style="margin:0 -1.1px">1</span></div><div class="t" style="top:352.14px;font-size:12px;line-height:14.40px;color:#161513;clip-path:inset(0 -50px 1.54px -50px);letter-spacing:-0.2px;right:936.5px;text-align:right;">5,224</div><div class="t" style="top:308.24px;font-size:12px;line-height:14.40px;color:#161513;letter-spacing:-0.2px;right:836.5px;text-align:right;">243,046</div><div class="t" style="top:330.14px;font-size:12px;line-height:14.40px;color:#161513;letter-spacing:-0.2px;right:836.5px;text-align:right;">7,7<span style="margin:0 -1.1px">1</span><span style="margin:0 -1.1px">1</span></div><div class="t" style="top:352.14px;font-size:12px;line-height:14.40px;color:#161513;clip-path:inset(0 -50px 1.54px -50px);letter-spacing:-0.2px;right:836.5px;text-align:right;">7,0<span style="margin:0 -1.1px">1</span><span style="margin:0 -1.1px">1</span></div><div class="t" style="top:308.24px;font-size:12px;line-height:14.40px;color:#161513;letter-spacing:-0.2px;right:736.5px;text-align:right;">240,366</div><div class="t" style="top:330.14px;font-size:12px;line-height:14.40px;color:#161513;letter-spacing:-0.2px;right:736.5px;text-align:right;">8,69<span style="margin:0 -1.1px">1</span></div><div class="t" style="top:352.14px;font-size:12px;line-height:14.40px;color:#161513;clip-path:inset(0 -50px 1.54px -50px);letter-spacing:-0.2px;right:736.5px;text-align:right;">7,882</div><div class="t" style="top:308.24px;font-size:12px;line-height:14.40px;color:#161513;letter-spacing:-0.2px;right:636.5px;text-align:right;">245,860</div><div class="t" style="top:330.14px;font-size:12px;line-height:14.40px;color:#161513;letter-spacing:-0.2px;right:636.5px;text-align:right;">8,6<span style="margin:0 -1.1px">1</span>5</div><div class="t" style="top:352.14px;font-size:12px;line-height:14.40px;color:#161513;clip-path:inset(0 -50px 1.54px -50px);letter-spacing:-0.2px;right:636.5px;text-align:right;">7,899</div><div class="t" style="top:308.24px;font-size:12px;line-height:14.40px;color:#161513;letter-spacing:-0.2px;right:536.5px;text-align:right;">23<span style="margin:0 -1.1px">1</span>,488</div><div class="t" style="top:330.14px;font-size:12px;line-height:14.40px;color:#161513;letter-spacing:-0.2px;right:536.5px;text-align:right;">7,776</div><div class="t" style="top:352.14px;font-size:12px;line-height:14.40px;color:#161513;clip-path:inset(0 -50px 1.54px -50px);letter-spacing:-0.2px;right:536.5px;text-align:right;">6,623</div><div class="t" style="top:308.24px;font-size:12px;line-height:14.40px;color:#161513;letter-spacing:-0.2px;right:436.5px;text-align:right;">225,806</div><div class="t" style="top:330.14px;font-size:12px;line-height:14.40px;color:#161513;letter-spacing:-0.2px;right:436.5px;text-align:right;">6,4<span style="margin:0 -1.1px">1</span>2</div><div class="t" style="top:352.14px;font-size:12px;line-height:14.40px;color:#161513;clip-path:inset(0 -50px 1.54px -50px);letter-spacing:-0.2px;right:436.5px;text-align:right;">5,345</div><div class="t" style="top:308.24px;font-size:12px;line-height:14.40px;color:#161513;letter-spacing:-0.2px;right:336.5px;text-align:right;">235,083</div><div class="t" style="top:330.14px;font-size:12px;line-height:14.40px;color:#161513;letter-spacing:-0.2px;right:336.5px;text-align:right;">4,89<span style="margin:0 -1.1px">1</span></div><div class="t" style="top:352.14px;font-size:12px;line-height:14.40px;color:#161513;clip-path:inset(0 -50px 1.54px -50px);letter-spacing:-0.2px;right:336.5px;text-align:right;">4,<span style="margin:0 -1.1px">1</span>00</div><div class="t" style="top:308.24px;font-size:12px;line-height:14.40px;color:#161513;letter-spacing:-0.2px;right:236.5px;text-align:right;">240,237</div><div class="t" style="top:330.14px;font-size:12px;line-height:14.40px;color:#161513;letter-spacing:-0.2px;right:236.5px;text-align:right;">3,609</div><div class="t" style="top:352.14px;font-size:12px;line-height:14.40px;color:#161513;clip-path:inset(0 -50px 1.54px -50px);letter-spacing:-0.2px;right:236.5px;text-align:right;">2,572</div><div class="t" style="top:308.24px;font-size:12px;line-height:14.40px;color:#161513;letter-spacing:-0.2px;right:136.5px;text-align:right;">234,44<span style="margin:0 -1.1px">1</span></div><div class="t" style="top:330.14px;font-size:12px;line-height:14.40px;color:#161513;letter-spacing:-0.2px;right:136.5px;text-align:right;">2,888</div><div class="t" style="top:352.14px;font-size:12px;line-height:14.40px;color:#161513;clip-path:inset(0 -50px 1.54px -50px);letter-spacing:-0.2px;right:136.5px;text-align:right;">2,3<span style="margin:0 -1.1px">1</span>8</div><div class="t" style="top:308.24px;font-size:12px;line-height:14.40px;color:#161513;letter-spacing:-0.2px;right:36.5px;text-align:right;">230,<span style="margin:0 -1.1px">1</span>03</div><div class="t" style="top:330.14px;font-size:12px;line-height:14.40px;color:#161513;letter-spacing:-0.2px;right:36.5px;text-align:right;">2,898</div><div class="t" style="top:352.14px;font-size:12px;line-height:14.40px;color:#161513;clip-path:inset(0 -50px 1.54px -50px);letter-spacing:-0.2px;right:36.5px;text-align:right;">2,356</div><div class="t" style="top:309.94px;font-size:12px;line-height:14.40px;color:#161513;letter-spacing:-0.5px;left:51px;">DIESEL BACKUP GENERATED ELECTRICITY</div><div class="t" style="top:309.94px;font-size:12px;line-height:14.40px;color:#161513;left:311px;">Kilowatt Hour</div><div class="t" style="top:331.84px;font-size:12px;line-height:14.40px;color:#161513;left:311px;">Litre</div><div class="t" style="top:353.84px;font-size:12px;line-height:14.40px;color:#161513;clip-path:inset(0 -50px 3.24px -50px);letter-spacing:-0.5px;left:51px;">DIESEL VOLUME-COMPANY OWNED</div><div class="t" style="top:353.84px;font-size:12px;line-height:14.40px;color:#161513;clip-path:inset(0 -50px 3.24px -50px);left:311px;">Kilowatt Hour</div><div class="r" style="left:29px;top:365px;width:1862px;height:4px;background:#ffffff;"></div><div class="r" style="left:29px;top:411px;width:914px;height:338px;background:#ffffff;"></div><div class="r" style="left:29px;top:411px;width:914px;height:41px;background:#f2f0ee;"></div><div class="r" style="left:29px;top:452px;width:372px;height:291px;background:#f2f0ee;"></div><div class="r" style="left:401px;top:411px;width:1px;height:332px;background:#cfcecc;"></div><div class="r" style="left:29px;top:452px;width:914px;height:1px;background:#d3d2d0;"></div><div class="r" style="left:501px;top:411px;width:1px;height:41px;background:#d9d8d6;"></div><div class="r" style="left:501px;top:452px;width:1px;height:291px;background:#e0e5e8;"></div><div class="r" style="left:601px;top:411px;width:1px;height:41px;background:#d9d8d6;"></div><div class="r" style="left:601px;top:452px;width:1px;height:291px;background:#e0e5e8;"></div><div class="r" style="left:701px;top:411px;width:1px;height:41px;background:#d9d8d6;"></div><div class="r" style="left:701px;top:452px;width:1px;height:291px;background:#e0e5e8;"></div><div class="r" style="left:801px;top:411px;width:1px;height:41px;background:#d9d8d6;"></div><div class="r" style="left:801px;top:452px;width:1px;height:291px;background:#e0e5e8;"></div><div class="r" style="left:901px;top:411px;width:1px;height:41px;background:#d9d8d6;"></div><div class="r" style="left:901px;top:452px;width:1px;height:291px;background:#e0e5e8;"></div><div class="r" style="left:289px;top:452px;width:1px;height:291px;background:#d9d8d6;"></div><div class="t" style="top:420.04px;font-size:12px;line-height:14.40px;color:#161513;letter-spacing:-0.2px;left:395.00px;width:100px;text-align:center;clip-path:inset(0 0px 0 0);">FY 24 - CY</div><div class="t" style="top:435.64px;font-size:12px;line-height:14.40px;color:#161513;letter-spacing:-0.2px;left:395.00px;width:100px;text-align:center;clip-path:inset(0 0px 0 0);">2023</div><div class="t" style="top:420.04px;font-size:12px;line-height:14.40px;color:#161513;letter-spacing:-0.2px;left:495.00px;width:100px;text-align:center;clip-path:inset(0 0px 0 0);">FY 25 - CY</div><div class="t" style="top:435.64px;font-size:12px;line-height:14.40px;color:#161513;letter-spacing:-0.2px;left:495.00px;width:100px;text-align:center;clip-path:inset(0 0px 0 0);">2024</div><div class="t" style="top:420.04px;font-size:12px;line-height:14.40px;color:#161513;letter-spacing:-0.2px;left:595.00px;width:100px;text-align:center;clip-path:inset(0 0px 0 0);">FY 26 - CY</div><div class="t" style="top:435.64px;font-size:12px;line-height:14.40px;color:#161513;letter-spacing:-0.2px;left:595.00px;width:100px;text-align:center;clip-path:inset(0 0px 0 0);">2025</div><div class="t" style="top:420.04px;font-size:12px;line-height:14.40px;color:#161513;letter-spacing:-0.2px;left:695.00px;width:100px;text-align:center;clip-path:inset(0 0px 0 0);">FY 27 - CY</div><div class="t" style="top:435.64px;font-size:12px;line-height:14.40px;color:#161513;letter-spacing:-0.2px;left:695.00px;width:100px;text-align:center;clip-path:inset(0 0px 0 0);">2026</div><div class="t" style="top:420.04px;font-size:12px;line-height:14.40px;color:#161513;letter-spacing:-0.2px;left:795.00px;width:100px;text-align:center;clip-path:inset(0 0px 0 0);">FY 28 - CY</div><div class="t" style="top:435.64px;font-size:12px;line-height:14.40px;color:#161513;letter-spacing:-0.2px;left:795.00px;width:100px;text-align:center;clip-path:inset(0 0px 0 0);">2027</div><div class="t" style="top:420.04px;font-size:12px;line-height:14.40px;color:#161513;letter-spacing:-0.2px;left:895.00px;width:100px;text-align:center;clip-path:inset(0 52px 0 0);">FY 29 - CY</div><div class="t" style="top:435.64px;font-size:12px;line-height:14.40px;color:#161513;letter-spacing:-0.2px;left:895.00px;width:100px;text-align:center;clip-path:inset(0 52px 0 0);">2028</div><div class="t" style="top:456.64px;font-size:12px;line-height:14.40px;color:#161513;clip-path:inset(0 -50px 0.00px -50px);letter-spacing:-0.5px;left:51px;">DIESEL BACKUP GENERATED ELECTRICITY</div><div class="t" style="top:456.14px;font-size:12px;line-height:14.40px;color:#161513;clip-path:inset(0 -50px 0.00px -50px);left:311px;">CO²e (kG/kWh)</div><div class="t" style="top:454.64px;font-size:12px;line-height:14.40px;color:#161513;clip-path:inset(0 -50px 0.00px -50px);letter-spacing:0px;right:1423.3px;text-align:right;">0.269390</div><div class="t" style="top:454.64px;font-size:12px;line-height:14.40px;color:#161513;clip-path:inset(0 -50px 0.00px -50px);letter-spacing:0px;right:1323.3px;text-align:right;">0.269390</div><div class="t" style="top:454.64px;font-size:12px;line-height:14.40px;color:#161513;clip-path:inset(0 -50px 0.00px -50px);letter-spacing:0px;right:1223.3px;text-align:right;">0.269390</div><div class="t" style="top:454.64px;font-size:12px;line-height:14.40px;color:#161513;clip-path:inset(0 -50px 0.00px -50px);letter-spacing:0px;right:1123.3px;text-align:right;">0.269390</div><div class="t" style="top:454.64px;font-size:12px;line-height:14.40px;color:#161513;clip-path:inset(0 -50px 0.00px -50px);letter-spacing:0px;right:1023.3px;text-align:right;">0.269390</div><div class="r" style="left:401px;top:474px;width:542px;height:1px;background:#e0e5e8;"></div><div class="r" style="left:289px;top:474px;width:112px;height:1px;background:#d9d8d6;"></div><div class="t" style="top:478.14px;font-size:12px;line-height:14.40px;color:#161513;clip-path:inset(0 -50px 0.00px -50px);left:311px;">CO² (kG/kWh)</div><div class="t" style="top:476.64px;font-size:12px;line-height:14.40px;color:#161513;clip-path:inset(0 -50px 0.00px -50px);letter-spacing:0px;right:1423.3px;text-align:right;">0.265650</div><div class="t" style="top:476.64px;font-size:12px;line-height:14.40px;color:#161513;clip-path:inset(0 -50px 0.00px -50px);letter-spacing:0px;right:1323.3px;text-align:right;">0.265650</div><div class="t" style="top:476.64px;font-size:12px;line-height:14.40px;color:#161513;clip-path:inset(0 -50px 0.00px -50px);letter-spacing:0px;right:1223.3px;text-align:right;">0.265650</div><div class="t" style="top:476.64px;font-size:12px;line-height:14.40px;color:#161513;clip-path:inset(0 -50px 0.00px -50px);letter-spacing:0px;right:1123.3px;text-align:right;">0.265650</div><div class="t" style="top:476.64px;font-size:12px;line-height:14.40px;color:#161513;clip-path:inset(0 -50px 0.00px -50px);letter-spacing:0px;right:1023.3px;text-align:right;">0.265650</div><div class="r" style="left:401px;top:496px;width:542px;height:1px;background:#e0e5e8;"></div><div class="r" style="left:289px;top:496px;width:112px;height:1px;background:#d9d8d6;"></div><div class="t" style="top:500.14px;font-size:12px;line-height:14.40px;color:#161513;clip-path:inset(0 -50px 0.00px -50px);left:311px;">CH4 (kG/kWh)</div><div class="t" style="top:498.64px;font-size:12px;line-height:14.40px;color:#161513;clip-path:inset(0 -50px 0.00px -50px);letter-spacing:0px;right:1423.3px;text-align:right;">0.000001</div><div class="t" style="top:498.64px;font-size:12px;line-height:14.40px;color:#161513;clip-path:inset(0 -50px 0.00px -50px);letter-spacing:0px;right:1323.3px;text-align:right;">0.000001</div><div class="t" style="top:498.64px;font-size:12px;line-height:14.40px;color:#161513;clip-path:inset(0 -50px 0.00px -50px);letter-spacing:0px;right:1223.3px;text-align:right;">0.000001</div><div class="t" style="top:498.64px;font-size:12px;line-height:14.40px;color:#161513;clip-path:inset(0 -50px 0.00px -50px);letter-spacing:0px;right:1123.3px;text-align:right;">0.000001</div><div class="t" style="top:498.64px;font-size:12px;line-height:14.40px;color:#161513;clip-path:inset(0 -50px 0.00px -50px);letter-spacing:0px;right:1023.3px;text-align:right;">0.000001</div><div class="r" style="left:401px;top:518px;width:542px;height:1px;background:#e0e5e8;"></div><div class="r" style="left:289px;top:518px;width:112px;height:1px;background:#d9d8d6;"></div><div class="t" style="top:522.14px;font-size:12px;line-height:14.40px;color:#161513;clip-path:inset(0 -50px 0.00px -50px);left:311px;">CH4e (kG/kWh)</div><div class="t" style="top:520.64px;font-size:12px;line-height:14.40px;color:#161513;clip-path:inset(0 -50px 0.00px -50px);letter-spacing:0px;right:1423.3px;text-align:right;">0.000030</div><div class="t" style="top:520.64px;font-size:12px;line-height:14.40px;color:#161513;clip-path:inset(0 -50px 0.00px -50px);letter-spacing:0px;right:1323.3px;text-align:right;">0.000030</div><div class="t" style="top:520.64px;font-size:12px;line-height:14.40px;color:#161513;clip-path:inset(0 -50px 0.00px -50px);letter-spacing:0px;right:1223.3px;text-align:right;">0.000030</div><div class="t" style="top:520.64px;font-size:12px;line-height:14.40px;color:#161513;clip-path:inset(0 -50px 0.00px -50px);letter-spacing:0px;right:1123.3px;text-align:right;">0.000030</div><div class="t" style="top:520.64px;font-size:12px;line-height:14.40px;color:#161513;clip-path:inset(0 -50px 0.00px -50px);letter-spacing:0px;right:1023.3px;text-align:right;">0.000030</div><div class="r" style="left:401px;top:540px;width:542px;height:1px;background:#e0e5e8;"></div><div class="r" style="left:289px;top:540px;width:112px;height:1px;background:#d9d8d6;"></div><div class="t" style="top:544.14px;font-size:12px;line-height:14.40px;color:#161513;clip-path:inset(0 -50px 0.00px -50px);left:311px;">N²Oe (kG/kWh)</div><div class="t" style="top:542.64px;font-size:12px;line-height:14.40px;color:#161513;clip-path:inset(0 -50px 0.00px -50px);letter-spacing:0px;right:1423.3px;text-align:right;">0.003710</div><div class="t" style="top:542.64px;font-size:12px;line-height:14.40px;color:#161513;clip-path:inset(0 -50px 0.00px -50px);letter-spacing:0px;right:1323.3px;text-align:right;">0.003710</div><div class="t" style="top:542.64px;font-size:12px;line-height:14.40px;color:#161513;clip-path:inset(0 -50px 0.00px -50px);letter-spacing:0px;right:1223.3px;text-align:right;">0.003710</div><div class="t" style="top:542.64px;font-size:12px;line-height:14.40px;color:#161513;clip-path:inset(0 -50px 0.00px -50px);letter-spacing:0px;right:1123.3px;text-align:right;">0.003710</div><div class="t" style="top:542.64px;font-size:12px;line-height:14.40px;color:#161513;clip-path:inset(0 -50px 0.00px -50px);letter-spacing:0px;right:1023.3px;text-align:right;">0.003710</div><div class="r" style="left:401px;top:562px;width:542px;height:1px;background:#e0e5e8;"></div><div class="r" style="left:289px;top:562px;width:112px;height:1px;background:#d9d8d6;"></div><div class="r" style="left:29px;top:562px;width:260px;height:1px;background:#d9d8d6;"></div><div class="t" style="top:566.64px;font-size:12px;line-height:14.40px;color:#161513;clip-path:inset(0 -50px 0.00px -50px);letter-spacing:-0.5px;left:51px;">DIESEL VOLUME-COMPANY OWNED</div><div class="t" style="top:566.14px;font-size:12px;line-height:14.40px;color:#161513;clip-path:inset(0 -50px 0.00px -50px);left:311px;">CO²e (kG/kWh)</div><div class="t" style="top:564.64px;font-size:12px;line-height:14.40px;color:#161513;clip-path:inset(0 -50px 0.00px -50px);letter-spacing:0px;right:1423.3px;text-align:right;">0.269390</div><div class="t" style="top:564.64px;font-size:12px;line-height:14.40px;color:#161513;clip-path:inset(0 -50px 0.00px -50px);letter-spacing:0px;right:1323.3px;text-align:right;">0.269390</div><div class="t" style="top:564.64px;font-size:12px;line-height:14.40px;color:#161513;clip-path:inset(0 -50px 0.00px -50px);letter-spacing:0px;right:1223.3px;text-align:right;">0.269390</div><div class="t" style="top:564.64px;font-size:12px;line-height:14.40px;color:#161513;clip-path:inset(0 -50px 0.00px -50px);letter-spacing:0px;right:1123.3px;text-align:right;">0.269390</div><div class="t" style="top:564.64px;font-size:12px;line-height:14.40px;color:#161513;clip-path:inset(0 -50px 0.00px -50px);letter-spacing:0px;right:1023.3px;text-align:right;">0.269390</div><div class="r" style="left:401px;top:584px;width:542px;height:1px;background:#e0e5e8;"></div><div class="r" style="left:289px;top:584px;width:112px;height:1px;background:#d9d8d6;"></div><div class="t" style="top:588.14px;font-size:12px;line-height:14.40px;color:#161513;clip-path:inset(0 -50px 0.00px -50px);left:311px;">CO² (kG/kWh)</div><div class="t" style="top:586.64px;font-size:12px;line-height:14.40px;color:#161513;clip-path:inset(0 -50px 0.00px -50px);letter-spacing:0px;right:1423.3px;text-align:right;">0.265650</div><div class="t" style="top:586.64px;font-size:12px;line-height:14.40px;color:#161513;clip-path:inset(0 -50px 0.00px -50px);letter-spacing:0px;right:1323.3px;text-align:right;">0.265650</div><div class="t" style="top:586.64px;font-size:12px;line-height:14.40px;color:#161513;clip-path:inset(0 -50px 0.00px -50px);letter-spacing:0px;right:1223.3px;text-align:right;">0.265650</div><div class="t" style="top:586.64px;font-size:12px;line-height:14.40px;color:#161513;clip-path:inset(0 -50px 0.00px -50px);letter-spacing:0px;right:1123.3px;text-align:right;">0.265650</div><div class="t" style="top:586.64px;font-size:12px;line-height:14.40px;color:#161513;clip-path:inset(0 -50px 0.00px -50px);letter-spacing:0px;right:1023.3px;text-align:right;">0.265650</div><div class="r" style="left:401px;top:606px;width:542px;height:1px;background:#e0e5e8;"></div><div class="r" style="left:289px;top:606px;width:112px;height:1px;background:#d9d8d6;"></div><div class="t" style="top:610.14px;font-size:12px;line-height:14.40px;color:#161513;clip-path:inset(0 -50px 0.00px -50px);left:311px;">CH4 (kG/kWh)</div><div class="t" style="top:608.64px;font-size:12px;line-height:14.40px;color:#161513;clip-path:inset(0 -50px 0.00px -50px);letter-spacing:0px;right:1423.3px;text-align:right;">0.000001</div><div class="t" style="top:608.64px;font-size:12px;line-height:14.40px;color:#161513;clip-path:inset(0 -50px 0.00px -50px);letter-spacing:0px;right:1323.3px;text-align:right;">0.000001</div><div class="t" style="top:608.64px;font-size:12px;line-height:14.40px;color:#161513;clip-path:inset(0 -50px 0.00px -50px);letter-spacing:0px;right:1223.3px;text-align:right;">0.000001</div><div class="t" style="top:608.64px;font-size:12px;line-height:14.40px;color:#161513;clip-path:inset(0 -50px 0.00px -50px);letter-spacing:0px;right:1123.3px;text-align:right;">0.000001</div><div class="t" style="top:608.64px;font-size:12px;line-height:14.40px;color:#161513;clip-path:inset(0 -50px 0.00px -50px);letter-spacing:0px;right:1023.3px;text-align:right;">0.000001</div><div class="r" style="left:401px;top:628px;width:542px;height:1px;background:#e0e5e8;"></div><div class="r" style="left:289px;top:628px;width:112px;height:1px;background:#d9d8d6;"></div><div class="t" style="top:632.14px;font-size:12px;line-height:14.40px;color:#161513;clip-path:inset(0 -50px 0.00px -50px);left:311px;">CH4e (kG/kWh)</div><div class="t" style="top:630.64px;font-size:12px;line-height:14.40px;color:#161513;clip-path:inset(0 -50px 0.00px -50px);letter-spacing:0px;right:1423.3px;text-align:right;">0.000030</div><div class="t" style="top:630.64px;font-size:12px;line-height:14.40px;color:#161513;clip-path:inset(0 -50px 0.00px -50px);letter-spacing:0px;right:1323.3px;text-align:right;">0.000030</div><div class="t" style="top:630.64px;font-size:12px;line-height:14.40px;color:#161513;clip-path:inset(0 -50px 0.00px -50px);letter-spacing:0px;right:1223.3px;text-align:right;">0.000030</div><div class="t" style="top:630.64px;font-size:12px;line-height:14.40px;color:#161513;clip-path:inset(0 -50px 0.00px -50px);letter-spacing:0px;right:1123.3px;text-align:right;">0.000030</div><div class="t" style="top:630.64px;font-size:12px;line-height:14.40px;color:#161513;clip-path:inset(0 -50px 0.00px -50px);letter-spacing:0px;right:1023.3px;text-align:right;">0.000030</div><div class="r" style="left:401px;top:650px;width:542px;height:1px;background:#e0e5e8;"></div><div class="r" style="left:289px;top:650px;width:112px;height:1px;background:#d9d8d6;"></div><div class="t" style="top:654.14px;font-size:12px;line-height:14.40px;color:#161513;clip-path:inset(0 -50px 0.00px -50px);left:311px;">N²Oe (kG/kWh)</div><div class="t" style="top:652.64px;font-size:12px;line-height:14.40px;color:#161513;clip-path:inset(0 -50px 0.00px -50px);letter-spacing:0px;right:1423.3px;text-align:right;">0.003710</div><div class="t" style="top:652.64px;font-size:12px;line-height:14.40px;color:#161513;clip-path:inset(0 -50px 0.00px -50px);letter-spacing:0px;right:1323.3px;text-align:right;">0.003710</div><div class="t" style="top:652.64px;font-size:12px;line-height:14.40px;color:#161513;clip-path:inset(0 -50px 0.00px -50px);letter-spacing:0px;right:1223.3px;text-align:right;">0.003710</div><div class="t" style="top:652.64px;font-size:12px;line-height:14.40px;color:#161513;clip-path:inset(0 -50px 0.00px -50px);letter-spacing:0px;right:1123.3px;text-align:right;">0.003710</div><div class="t" style="top:652.64px;font-size:12px;line-height:14.40px;color:#161513;clip-path:inset(0 -50px 0.00px -50px);letter-spacing:0px;right:1023.3px;text-align:right;">0.003710</div><div class="r" style="left:401px;top:672px;width:542px;height:1px;background:#e0e5e8;"></div><div class="r" style="left:289px;top:672px;width:112px;height:1px;background:#d9d8d6;"></div><div class="r" style="left:29px;top:672px;width:260px;height:1px;background:#d9d8d6;"></div><div class="t" style="top:676.64px;font-size:12px;line-height:14.40px;color:#161513;clip-path:inset(0 -50px 0.00px -50px);letter-spacing:-0.5px;left:51px;">DIESEL VOLUME-LEASED-HIRED</div><div class="t" style="top:676.14px;font-size:12px;line-height:14.40px;color:#161513;clip-path:inset(0 -50px 0.00px -50px);left:311px;">CO²e (kG/kWh)</div><div class="t" style="top:674.64px;font-size:12px;line-height:14.40px;color:#161513;clip-path:inset(0 -50px 0.00px -50px);letter-spacing:0px;right:1423.3px;text-align:right;">0.269390</div><div class="t" style="top:674.64px;font-size:12px;line-height:14.40px;color:#161513;clip-path:inset(0 -50px 0.00px -50px);letter-spacing:0px;right:1323.3px;text-align:right;">0.269390</div><div class="t" style="top:674.64px;font-size:12px;line-height:14.40px;color:#161513;clip-path:inset(0 -50px 0.00px -50px);letter-spacing:0px;right:1223.3px;text-align:right;">0.269390</div><div class="t" style="top:674.64px;font-size:12px;line-height:14.40px;color:#161513;clip-path:inset(0 -50px 0.00px -50px);letter-spacing:0px;right:1123.3px;text-align:right;">0.269390</div><div class="t" style="top:674.64px;font-size:12px;line-height:14.40px;color:#161513;clip-path:inset(0 -50px 0.00px -50px);letter-spacing:0px;right:1023.3px;text-align:right;">0.269390</div><div class="r" style="left:401px;top:694px;width:542px;height:1px;background:#e0e5e8;"></div><div class="r" style="left:289px;top:694px;width:112px;height:1px;background:#d9d8d6;"></div><div class="t" style="top:698.14px;font-size:12px;line-height:14.40px;color:#161513;clip-path:inset(0 -50px 0.00px -50px);left:311px;">CO² (kG/kWh)</div><div class="t" style="top:696.64px;font-size:12px;line-height:14.40px;color:#161513;clip-path:inset(0 -50px 0.00px -50px);letter-spacing:0px;right:1423.3px;text-align:right;">0.265650</div><div class="t" style="top:696.64px;font-size:12px;line-height:14.40px;color:#161513;clip-path:inset(0 -50px 0.00px -50px);letter-spacing:0px;right:1323.3px;text-align:right;">0.265650</div><div class="t" style="top:696.64px;font-size:12px;line-height:14.40px;color:#161513;clip-path:inset(0 -50px 0.00px -50px);letter-spacing:0px;right:1223.3px;text-align:right;">0.265650</div><div class="t" style="top:696.64px;font-size:12px;line-height:14.40px;color:#161513;clip-path:inset(0 -50px 0.00px -50px);letter-spacing:0px;right:1123.3px;text-align:right;">0.265650</div><div class="t" style="top:696.64px;font-size:12px;line-height:14.40px;color:#161513;clip-path:inset(0 -50px 0.00px -50px);letter-spacing:0px;right:1023.3px;text-align:right;">0.265650</div><div class="r" style="left:401px;top:716px;width:542px;height:1px;background:#e0e5e8;"></div><div class="r" style="left:289px;top:716px;width:112px;height:1px;background:#d9d8d6;"></div><div class="t" style="top:720.14px;font-size:12px;line-height:14.40px;color:#161513;clip-path:inset(0 -50px 0.00px -50px);left:311px;">CH4 (kG/kWh)</div><div class="t" style="top:718.64px;font-size:12px;line-height:14.40px;color:#161513;clip-path:inset(0 -50px 0.00px -50px);letter-spacing:0px;right:1423.3px;text-align:right;">0.000001</div><div class="t" style="top:718.64px;font-size:12px;line-height:14.40px;color:#161513;clip-path:inset(0 -50px 0.00px -50px);letter-spacing:0px;right:1323.3px;text-align:right;">0.000001</div><div class="t" style="top:718.64px;font-size:12px;line-height:14.40px;color:#161513;clip-path:inset(0 -50px 0.00px -50px);letter-spacing:0px;right:1223.3px;text-align:right;">0.000001</div><div class="t" style="top:718.64px;font-size:12px;line-height:14.40px;color:#161513;clip-path:inset(0 -50px 0.00px -50px);letter-spacing:0px;right:1123.3px;text-align:right;">0.000001</div><div class="t" style="top:718.64px;font-size:12px;line-height:14.40px;color:#161513;clip-path:inset(0 -50px 0.00px -50px);letter-spacing:0px;right:1023.3px;text-align:right;">0.000001</div><div class="r" style="left:401px;top:738px;width:542px;height:1px;background:#e0e5e8;"></div><div class="r" style="left:289px;top:738px;width:112px;height:1px;background:#d9d8d6;"></div><div class="t" style="top:742.14px;font-size:12px;line-height:14.40px;color:#161513;clip-path:inset(0 -50px 13.54px -50px);left:311px;">CH4e (kG/kWh)</div><div class="t" style="top:740.64px;font-size:12px;line-height:14.40px;color:#161513;clip-path:inset(0 -50px 12.04px -50px);letter-spacing:0px;right:1423.3px;text-align:right;">0.000030</div><div class="t" style="top:740.64px;font-size:12px;line-height:14.40px;color:#161513;clip-path:inset(0 -50px 12.04px -50px);letter-spacing:0px;right:1323.3px;text-align:right;">0.000030</div><div class="t" style="top:740.64px;font-size:12px;line-height:14.40px;color:#161513;clip-path:inset(0 -50px 12.04px -50px);letter-spacing:0px;right:1223.3px;text-align:right;">0.000030</div><div class="t" style="top:740.64px;font-size:12px;line-height:14.40px;color:#161513;clip-path:inset(0 -50px 12.04px -50px);letter-spacing:0px;right:1123.3px;text-align:right;">0.000030</div><div class="t" style="top:740.64px;font-size:12px;line-height:14.40px;color:#161513;clip-path:inset(0 -50px 12.04px -50px);letter-spacing:0px;right:1023.3px;text-align:right;">0.000030</div><div class="r" style="left:943px;top:411px;width:13px;height:338px;background:#9ebec6;"></div><div class="r" style="left:29px;top:743px;width:914px;height:6px;background:#ffffff;"></div><div class="r" style="left:977px;top:411px;width:913px;height:338px;background:#ffffff;"></div><div class="r" style="left:977px;top:411px;width:913px;height:112px;background:#f2f0ee;"></div><div class="r" style="left:1131px;top:484px;width:168px;height:39px;background:#e8e6e4;"></div><div class="r" style="left:977px;top:483px;width:913px;height:1px;background:#d9d8d6;"></div><div class="r" style="left:977px;top:523px;width:913px;height:1px;background:#d3d2d0;"></div><div class="r" style="left:1131px;top:411px;width:1px;height:112px;background:#d9d8d6;"></div><div class="r" style="left:1299px;top:484px;width:1px;height:39px;background:#d9d8d6;"></div><div class="r" style="left:1419px;top:484px;width:1px;height:39px;background:#d9d8d6;"></div><div class="r" style="left:1635px;top:411px;width:1px;height:112px;background:#d9d8d6;"></div><div class="r" style="left:1635px;top:523px;width:1px;height:220px;background:#4f4d4b;"></div><div class="r" style="left:1685px;top:411px;width:1px;height:112px;background:#d9d8d6;"></div><div class="r" style="left:1685px;top:523px;width:1px;height:220px;background:#e0e5e8;"></div><div class="r" style="left:1735px;top:411px;width:1px;height:112px;background:#d9d8d6;"></div><div class="r" style="left:1735px;top:523px;width:1px;height:220px;background:#e0e5e8;"></div><div class="r" style="left:1785px;top:411px;width:1px;height:112px;background:#d9d8d6;"></div><div class="r" style="left:1785px;top:523px;width:1px;height:220px;background:#e0e5e8;"></div><div class="r" style="left:1835px;top:411px;width:1px;height:112px;background:#d9d8d6;"></div><div class="r" style="left:1835px;top:523px;width:1px;height:220px;background:#e0e5e8;"></div><div class="r" style="left:1885px;top:411px;width:1px;height:112px;background:#d9d8d6;"></div><div class="r" style="left:1885px;top:523px;width:1px;height:220px;background:#e0e5e8;"></div><div class="r" style="left:1131px;top:523px;width:1px;height:220px;background:#4f4d4b;"></div><div class="r" style="left:1299px;top:523px;width:1px;height:220px;background:#e0e5e8;"></div><div class="r" style="left:1419px;top:523px;width:1px;height:220px;background:#e0e5e8;"></div><div class="r" style="left:977px;top:545px;width:913px;height:1px;background:#e0e5e8;"></div><div class="r" style="left:977px;top:567px;width:913px;height:1px;background:#e0e5e8;"></div><div class="r" style="left:977px;top:589px;width:913px;height:1px;background:#e0e5e8;"></div><div class="r" style="left:977px;top:611px;width:913px;height:1px;background:#e0e5e8;"></div><div class="r" style="left:977px;top:633px;width:913px;height:1px;background:#e0e5e8;"></div><div class="r" style="left:977px;top:655px;width:913px;height:1px;background:#e0e5e8;"></div><div class="r" style="left:977px;top:677px;width:913px;height:1px;background:#e0e5e8;"></div><div class="r" style="left:977px;top:699px;width:913px;height:1px;background:#e0e5e8;"></div><div class="r" style="left:977px;top:721px;width:913px;height:1px;background:#e0e5e8;"></div><div class="r" style="left:977px;top:743px;width:913px;height:1px;background:#5d5b59;"></div><div class="t" style="top:419.36px;font-size:12.3px;line-height:14.76px;color:#161513;letter-spacing:-0.25px;left:982px;">FY 24 - CY 2023</div><div class="t" style="top:419.36px;font-size:12.3px;line-height:14.76px;color:#161513;letter-spacing:-0.25px;left:1136px;">FY 24 - CY 2023</div><div class="t" style="top:419.94px;font-size:12px;line-height:14.40px;color:#161513;letter-spacing:-0.2px;left:1628.00px;width:50px;text-align:center;">FY</div><div class="t" style="top:435.94px;font-size:12px;line-height:14.40px;color:#161513;letter-spacing:-0.2px;left:1628.00px;width:50px;text-align:center;">24 -</div><div class="t" style="top:451.94px;font-size:12px;line-height:14.40px;color:#161513;letter-spacing:-0.2px;left:1628.00px;width:50px;text-align:center;">CY</div><div class="t" style="top:467.94px;font-size:12px;line-height:14.40px;color:#161513;letter-spacing:-0.2px;left:1628.00px;width:50px;text-align:center;">2023</div><svg class="r" style="left:1635px;top:490px;" width="50" height="16" viewBox="0 0 50 16"><g fill="none" stroke="#161513" stroke-width="1.25"><path d="M9.8,13.3 V5.3 M7.1,8.1 L9.8,5.3 L12.5,8.1"/><path d="M23.5,5.3 V13.3 M20.8,10.5 L23.5,13.3 L26.2,10.5"/></g><text x="15.9" y="13" font-size="12" fill="#161513" font-family="Liberation Sans">(</text><text x="26.8" y="13" font-size="12" fill="#161513" font-family="Liberation Sans">)</text></svg><div class="t" style="top:507.64px;font-size:12px;line-height:14.40px;color:#161513;left:1628.00px;width:50px;text-align:center;">%</div><div class="t" style="top:419.94px;font-size:12px;line-height:14.40px;color:#161513;letter-spacing:-0.2px;left:1678.00px;width:50px;text-align:center;">FY</div><div class="t" style="top:435.94px;font-size:12px;line-height:14.40px;color:#161513;letter-spacing:-0.2px;left:1678.00px;width:50px;text-align:center;">25 -</div><div class="t" style="top:451.94px;font-size:12px;line-height:14.40px;color:#161513;letter-spacing:-0.2px;left:1678.00px;width:50px;text-align:center;">CY</div><div class="t" style="top:467.94px;font-size:12px;line-height:14.40px;color:#161513;letter-spacing:-0.2px;left:1678.00px;width:50px;text-align:center;">2024</div><svg class="r" style="left:1685px;top:490px;" width="50" height="16" viewBox="0 0 50 16"><g fill="none" stroke="#161513" stroke-width="1.25"><path d="M9.8,13.3 V5.3 M7.1,8.1 L9.8,5.3 L12.5,8.1"/><path d="M23.5,5.3 V13.3 M20.8,10.5 L23.5,13.3 L26.2,10.5"/></g><text x="15.9" y="13" font-size="12" fill="#161513" font-family="Liberation Sans">(</text><text x="26.8" y="13" font-size="12" fill="#161513" font-family="Liberation Sans">)</text></svg><div class="t" style="top:507.64px;font-size:12px;line-height:14.40px;color:#161513;left:1678.00px;width:50px;text-align:center;">%</div><div class="t" style="top:419.94px;font-size:12px;line-height:14.40px;color:#161513;letter-spacing:-0.2px;left:1728.00px;width:50px;text-align:center;">FY</div><div class="t" style="top:435.94px;font-size:12px;line-height:14.40px;color:#161513;letter-spacing:-0.2px;left:1728.00px;width:50px;text-align:center;">26 -</div><div class="t" style="top:451.94px;font-size:12px;line-height:14.40px;color:#161513;letter-spacing:-0.2px;left:1728.00px;width:50px;text-align:center;">CY</div><div class="t" style="top:467.94px;font-size:12px;line-height:14.40px;color:#161513;letter-spacing:-0.2px;left:1728.00px;width:50px;text-align:center;">2025</div><svg class="r" style="left:1735px;top:490px;" width="50" height="16" viewBox="0 0 50 16"><g fill="none" stroke="#161513" stroke-width="1.25"><path d="M9.8,13.3 V5.3 M7.1,8.1 L9.8,5.3 L12.5,8.1"/><path d="M23.5,5.3 V13.3 M20.8,10.5 L23.5,13.3 L26.2,10.5"/></g><text x="15.9" y="13" font-size="12" fill="#161513" font-family="Liberation Sans">(</text><text x="26.8" y="13" font-size="12" fill="#161513" font-family="Liberation Sans">)</text></svg><div class="t" style="top:507.64px;font-size:12px;line-height:14.40px;color:#161513;left:1728.00px;width:50px;text-align:center;">%</div><div class="t" style="top:419.94px;font-size:12px;line-height:14.40px;color:#161513;letter-spacing:-0.2px;left:1778.00px;width:50px;text-align:center;">FY</div><div class="t" style="top:435.94px;font-size:12px;line-height:14.40px;color:#161513;letter-spacing:-0.2px;left:1778.00px;width:50px;text-align:center;">27 -</div><div class="t" style="top:451.94px;font-size:12px;line-height:14.40px;color:#161513;letter-spacing:-0.2px;left:1778.00px;width:50px;text-align:center;">CY</div><div class="t" style="top:467.94px;font-size:12px;line-height:14.40px;color:#161513;letter-spacing:-0.2px;left:1778.00px;width:50px;text-align:center;">2026</div><svg class="r" style="left:1785px;top:490px;" width="50" height="16" viewBox="0 0 50 16"><g fill="none" stroke="#161513" stroke-width="1.25"><path d="M9.8,13.3 V5.3 M7.1,8.1 L9.8,5.3 L12.5,8.1"/><path d="M23.5,5.3 V13.3 M20.8,10.5 L23.5,13.3 L26.2,10.5"/></g><text x="15.9" y="13" font-size="12" fill="#161513" font-family="Liberation Sans">(</text><text x="26.8" y="13" font-size="12" fill="#161513" font-family="Liberation Sans">)</text></svg><div class="t" style="top:507.64px;font-size:12px;line-height:14.40px;color:#161513;left:1778.00px;width:50px;text-align:center;">%</div><div class="t" style="top:419.94px;font-size:12px;line-height:14.40px;color:#161513;letter-spacing:-0.2px;left:1828.00px;width:50px;text-align:center;">FY</div><div class="t" style="top:435.94px;font-size:12px;line-height:14.40px;color:#161513;letter-spacing:-0.2px;left:1828.00px;width:50px;text-align:center;">28 -</div><div class="t" style="top:451.94px;font-size:12px;line-height:14.40px;color:#161513;letter-spacing:-0.2px;left:1828.00px;width:50px;text-align:center;">CY</div><div class="t" style="top:467.94px;font-size:12px;line-height:14.40px;color:#161513;letter-spacing:-0.2px;left:1828.00px;width:50px;text-align:center;">2027</div><svg class="r" style="left:1835px;top:490px;" width="50" height="16" viewBox="0 0 50 16"><g fill="none" stroke="#161513" stroke-width="1.25"><path d="M9.8,13.3 V5.3 M7.1,8.1 L9.8,5.3 L12.5,8.1"/><path d="M23.5,5.3 V13.3 M20.8,10.5 L23.5,13.3 L26.2,10.5"/></g><text x="15.9" y="13" font-size="12" fill="#161513" font-family="Liberation Sans">(</text><text x="26.8" y="13" font-size="12" fill="#161513" font-family="Liberation Sans">)</text></svg><div class="t" style="top:507.64px;font-size:12px;line-height:14.40px;color:#161513;left:1828.00px;width:50px;text-align:center;">%</div><div class="t" style="top:491.64px;font-size:12px;line-height:14.40px;color:#161513;left:982px;">Name of Initiative</div><div class="t" style="top:491.64px;font-size:12px;line-height:14.40px;color:#161513;left:1136px;">Select Energy Type</div><div class="t" style="top:491.64px;font-size:12px;line-height:14.40px;color:#161513;left:1292.00px;width:120px;text-align:center;">Select Energy</div><div class="t" style="top:507.64px;font-size:12px;line-height:14.40px;color:#161513;left:1292.00px;width:120px;text-align:center;">Unit</div><div class="t" style="top:491.64px;font-size:12px;line-height:14.40px;color:#161513;left:1424px;">Select Account</div><svg class="r" style="left:1284px;top:486px;" width="12" height="13" viewBox="0 0 12 13"><path d="M0.5,0.5 H11.5 L7.3,5.5 V12 L4.7,10.5 V5.5 Z" fill="#161513"/></svg><div class="t" style="top:526.64px;font-size:12px;line-height:14.40px;color:#161513;left:983px;">Move to Renewable</div><div class="t" style="top:526.64px;font-size:12px;line-height:14.40px;color:#161513;letter-spacing:-0.5px;left:1137px;">ELECTRICITY</div><div class="t" style="top:526.64px;font-size:12px;line-height:14.40px;color:#161513;left:1305px;">All UOM</div><div class="t" style="top:526.64px;font-size:12px;line-height:14.40px;color:#161513;letter-spacing:0px;left:1425px;">Total CO2e emissions indirect, Scope</div><div class="r" style="left:1636px;top:523px;width:49px;height:21px;overflow:hidden;"><div class="t" style="left:4px;width:41px;text-align:right;top:3.64px;font-size:12px;line-height:14.4px;color:#c9302c;letter-spacing:-0.15px;">(10.0)%</div></div><div class="r" style="left:1686px;top:523px;width:49px;height:21px;overflow:hidden;"><div class="t" style="left:4px;width:41px;text-align:right;top:3.64px;font-size:12px;line-height:14.4px;color:#c9302c;letter-spacing:-0.15px;">(20.0)%</div></div><div class="r" style="left:1736px;top:523px;width:49px;height:21px;overflow:hidden;"><div class="t" style="left:4px;width:41px;text-align:right;top:3.64px;font-size:12px;line-height:14.4px;color:#c9302c;letter-spacing:-0.15px;">(30.0)%</div></div><div class="r" style="left:1786px;top:523px;width:49px;height:21px;overflow:hidden;"><div class="t" style="left:4px;width:41px;text-align:right;top:3.64px;font-size:12px;line-height:14.4px;color:#c9302c;letter-spacing:-0.15px;">(40.0)%</div></div><div class="r" style="left:1836px;top:523px;width:49px;height:21px;overflow:hidden;"><div class="t" style="left:4px;width:41px;text-align:right;top:3.64px;font-size:12px;line-height:14.4px;color:#c9302c;letter-spacing:-0.15px;">(50.0)%</div></div><div class="t" style="top:548.64px;font-size:12px;line-height:14.40px;color:#161513;left:983px;">Move from Non</div><div class="t" style="top:548.64px;font-size:12px;line-height:14.40px;color:#161513;letter-spacing:-0.5px;left:1137px;">ELECTRICITY RENEWABLE</div><div class="t" style="top:548.64px;font-size:12px;line-height:14.40px;color:#161513;left:1305px;">All UOM</div><div class="t" style="top:548.64px;font-size:12px;line-height:14.40px;color:#161513;letter-spacing:0px;left:1425px;">Total CO2e emissions indirect, Scope</div><div class="r" style="left:1636px;top:545px;width:49px;height:21px;overflow:hidden;"><div class="t" style="left:4px;width:41px;text-align:right;top:3.64px;font-size:12px;line-height:14.4px;color:#161513;letter-spacing:-0.15px;">30.0%</div></div><div class="r" style="left:1686px;top:545px;width:49px;height:21px;overflow:hidden;"><div class="t" style="left:4px;width:41px;text-align:right;top:3.64px;font-size:12px;line-height:14.4px;color:#161513;letter-spacing:-0.15px;">50.0%</div></div><div class="r" style="left:1736px;top:545px;width:49px;height:21px;overflow:hidden;"><div class="t" style="left:4px;width:41px;text-align:right;top:3.64px;font-size:12px;line-height:14.4px;color:#161513;letter-spacing:-0.15px;">70.0%</div></div><div class="r" style="left:1786px;top:545px;width:49px;height:21px;overflow:hidden;"><div class="t" style="left:4px;width:41px;text-align:right;top:3.64px;font-size:12px;line-height:14.4px;color:#161513;letter-spacing:-0.15px;">75.0%</div></div><div class="r" style="left:1836px;top:545px;width:49px;height:21px;overflow:hidden;"><div class="t" style="left:4px;width:41px;text-align:right;top:3.64px;font-size:12px;line-height:14.4px;color:#161513;letter-spacing:-0.15px;">80.0%</div></div><div class="t" style="top:570.64px;font-size:12px;line-height:14.40px;color:#161513;left:983px;">Retire Diesel Vehicles</div><div class="t" style="top:570.64px;font-size:12px;line-height:14.40px;color:#161513;letter-spacing:0px;left:1137px;">Diesel</div><div class="t" style="top:570.64px;font-size:12px;line-height:14.40px;color:#161513;left:1305px;">All UOM</div><div class="t" style="top:570.64px;font-size:12px;line-height:14.40px;color:#161513;letter-spacing:-0.4px;left:1425px;">Scope 1 Usage</div><div class="r" style="left:1636px;top:567px;width:49px;height:21px;overflow:hidden;"><div class="t" style="left:4px;width:41px;text-align:right;top:3.64px;font-size:12px;line-height:14.4px;color:#c9302c;letter-spacing:-0.15px;">(50.0)%</div></div><div class="r" style="left:1686px;top:567px;width:49px;height:21px;overflow:hidden;"><div class="t" style="left:4px;width:41px;text-align:right;top:3.64px;font-size:12px;line-height:14.4px;color:#c9302c;letter-spacing:-0.15px;">(100.0)%</div></div><div class="r" style="left:1736px;top:567px;width:49px;height:21px;overflow:hidden;"><div class="t" style="left:4px;width:41px;text-align:right;top:3.64px;font-size:12px;line-height:14.4px;color:#c9302c;letter-spacing:-0.15px;">(100.0)%</div></div><div class="r" style="left:1786px;top:567px;width:49px;height:21px;overflow:hidden;"><div class="t" style="left:4px;width:41px;text-align:right;top:3.64px;font-size:12px;line-height:14.4px;color:#c9302c;letter-spacing:-0.15px;">(100.0)%</div></div><div class="r" style="left:1836px;top:567px;width:49px;height:21px;overflow:hidden;"><div class="t" style="left:4px;width:41px;text-align:right;top:3.64px;font-size:12px;line-height:14.4px;color:#c9302c;letter-spacing:-0.15px;">(100.0)%</div></div><div class="t" style="top:592.64px;font-size:12px;line-height:14.40px;color:#161513;left:983px;">Retire Petrol Vehicles</div><div class="t" style="top:592.64px;font-size:12px;line-height:14.40px;color:#161513;letter-spacing:0px;left:1137px;">Petrol</div><div class="t" style="top:592.64px;font-size:12px;line-height:14.40px;color:#161513;left:1305px;">All UOM</div><div class="t" style="top:592.64px;font-size:12px;line-height:14.40px;color:#161513;letter-spacing:-0.4px;left:1425px;">Scope 1 Usage</div><div class="r" style="left:1636px;top:589px;width:49px;height:21px;overflow:hidden;"><div class="t" style="left:4px;width:41px;text-align:right;top:3.64px;font-size:12px;line-height:14.4px;color:#c9302c;letter-spacing:-0.15px;">(10.0)%</div></div><div class="r" style="left:1686px;top:589px;width:49px;height:21px;overflow:hidden;"><div class="t" style="left:4px;width:41px;text-align:right;top:3.64px;font-size:12px;line-height:14.4px;color:#c9302c;letter-spacing:-0.15px;">(20.0)%</div></div><div class="r" style="left:1736px;top:589px;width:49px;height:21px;overflow:hidden;"><div class="t" style="left:4px;width:41px;text-align:right;top:3.64px;font-size:12px;line-height:14.4px;color:#c9302c;letter-spacing:-0.15px;">(60.0)%</div></div><div class="r" style="left:1786px;top:589px;width:49px;height:21px;overflow:hidden;"><div class="t" style="left:4px;width:41px;text-align:right;top:3.64px;font-size:12px;line-height:14.4px;color:#c9302c;letter-spacing:-0.15px;">(100.0)%</div></div><div class="r" style="left:1836px;top:589px;width:49px;height:21px;overflow:hidden;"><div class="t" style="left:4px;width:41px;text-align:right;top:3.64px;font-size:12px;line-height:14.4px;color:#c9302c;letter-spacing:-0.15px;">(100.0)%</div></div><div class="t" style="top:614.64px;font-size:12px;line-height:14.40px;color:#161513;left:983px;">Decommission Generators</div><div class="t" style="top:614.64px;font-size:12px;line-height:14.40px;color:#161513;letter-spacing:0px;left:1137px;">Stationary Combustion</div><div class="t" style="top:614.64px;font-size:12px;line-height:14.40px;color:#161513;left:1305px;">All UOM</div><div class="t" style="top:614.64px;font-size:12px;line-height:14.40px;color:#161513;letter-spacing:0px;left:1425px;">Total CO2e emissions direct, Scope 1</div><div class="r" style="left:1686px;top:611px;width:49px;height:21px;overflow:hidden;"><div class="t" style="left:4px;width:41px;text-align:right;top:3.64px;font-size:12px;line-height:14.4px;color:#c9302c;letter-spacing:-0.15px;">(10.0)%</div></div><div class="r" style="left:1736px;top:611px;width:49px;height:21px;overflow:hidden;"><div class="t" style="left:4px;width:41px;text-align:right;top:3.64px;font-size:12px;line-height:14.4px;color:#c9302c;letter-spacing:-0.15px;">(20.0)%</div></div><div class="r" style="left:1786px;top:611px;width:49px;height:21px;overflow:hidden;"><div class="t" style="left:4px;width:41px;text-align:right;top:3.64px;font-size:12px;line-height:14.4px;color:#c9302c;letter-spacing:-0.15px;">(30.0)%</div></div><div class="r" style="left:1836px;top:611px;width:49px;height:21px;overflow:hidden;"><div class="t" style="left:4px;width:41px;text-align:right;top:3.64px;font-size:12px;line-height:14.4px;color:#c9302c;letter-spacing:-0.15px;">(40.0)%</div></div><div class="t" style="top:636.64px;font-size:12px;line-height:14.40px;color:#161513;left:983px;">Wind generators</div><div class="t" style="top:636.64px;font-size:12px;line-height:14.40px;color:#161513;letter-spacing:-0.5px;left:1137px;">ELECTRICITY</div><div class="t" style="top:636.64px;font-size:12px;line-height:14.40px;color:#161513;left:1305px;">All UOM</div><div class="t" style="top:636.64px;font-size:12px;line-height:14.40px;color:#161513;letter-spacing:-0.4px;left:1425px;">Scope 1 Usage</div><div class="r" style="left:1786px;top:633px;width:49px;height:21px;overflow:hidden;"><div class="t" style="left:4px;width:41px;text-align:right;top:3.64px;font-size:12px;line-height:14.4px;color:#c9302c;letter-spacing:-0.15px;">(25.0)%</div></div><div class="r" style="left:1836px;top:633px;width:49px;height:21px;overflow:hidden;"><div class="t" style="left:4px;width:41px;text-align:right;top:3.64px;font-size:12px;line-height:14.4px;color:#c9302c;letter-spacing:-0.15px;">(25.0)%</div></div><div class="t" style="top:658.64px;font-size:12px;line-height:14.40px;color:#161513;left:983px;">Wind generators</div><div class="t" style="top:658.64px;font-size:12px;line-height:14.40px;color:#161513;letter-spacing:-0.5px;left:1137px;">ELECTRICITY RENEWABLE</div><div class="t" style="top:658.64px;font-size:12px;line-height:14.40px;color:#161513;left:1305px;">All UOM</div><div class="t" style="top:658.64px;font-size:12px;line-height:14.40px;color:#161513;letter-spacing:-0.4px;left:1425px;">Scope 1 Usage</div><div class="r" style="left:1786px;top:655px;width:49px;height:21px;overflow:hidden;"><div class="t" style="left:4px;width:41px;text-align:right;top:3.64px;font-size:12px;line-height:14.4px;color:#161513;letter-spacing:-0.15px;">35.0%</div></div><div class="r" style="left:1836px;top:655px;width:49px;height:21px;overflow:hidden;"><div class="t" style="left:4px;width:41px;text-align:right;top:3.64px;font-size:12px;line-height:14.4px;color:#161513;letter-spacing:-0.15px;">35.0%</div></div><div class="r" style="left:977px;top:744px;width:913px;height:5px;background:#ffffff;"></div><div class="r" style="left:1200px;top:527px;width:104px;height:21px;background:#ffffff;border:1px solid #5a5855;border-radius:4px;box-sizing:border-box;"></div><div class="t" style="top:530.44px;font-size:12px;line-height:14.40px;color:#161513;letter-spacing:-0.35px;left:1204.5px;">Select Energy Type</div><svg class="r" style="left:1763px;top:387px;" width="18" height="18" viewBox="0 0 18 18"><circle cx="9.2" cy="9" r="7.3" fill="none" stroke="#161513" stroke-width="1.6"/><rect x="8.4" y="7.4" width="1.6" height="5.6" fill="#161513"/><circle cx="9.2" cy="5.3" r="1" fill="#161513"/></svg><svg class="r" style="left:1790px;top:387px;" width="18" height="18" viewBox="0 0 18 18"><path d="M1.9,1.6 H12.5 L16.4,5.5 V16.2 H1.9 Z" fill="none" stroke="#161513" stroke-width="1.7"/><path d="M5.2,1.6 V5.7 H11.3 V1.6" fill="none" stroke="#161513" stroke-width="1.5"/><path d="M5,16.2 V10.4 H13.2 V16.2" fill="none" stroke="#161513" stroke-width="1.5"/></svg><svg class="r" style="left:1816px;top:387px;" width="19" height="18" viewBox="0 0 19 18"><path d="M12.6,3.4 A6.3,6.3 0 1 0 15.6,9.2" fill="none" stroke="#161513" stroke-width="1.7"/><path d="M12.7,8.6 H18.5 L15.6,12.2 Z" fill="#161513"/></svg><svg class="r" style="left:1844px;top:387px;" width="18" height="18" viewBox="0 0 18 18"><path d="M1.8,0.5 V16.6 H17.6" fill="none" stroke="#161513" stroke-width="1.6"/><path d="M5.3,16 V9 M8.7,16 V2.4 M12.1,16 V11 M15.3,16 V5" fill="none" stroke="#161513" stroke-width="1.5"/></svg><svg class="r" style="left:1871px;top:392px;" width="20" height="8" viewBox="0 0 20 8"><circle cx="2.4" cy="3.6" r="1.6" fill="#161513"/><circle cx="9.2" cy="3.6" r="1.6" fill="#161513"/><circle cx="15.8" cy="3.6" r="1.6" fill="#161513"/></svg><div class="t" style="top:788.04px;font-size:12px;line-height:14.40px;color:#1c2b30;left:29px;">Kilowatt Hour</div><svg class="r" style="left:120px;top:793px;" width="11" height="8" viewBox="0 0 11 8"><path d="M0.5,0.5 H10.5 L5.5,7.2 Z" fill="#161513"/></svg><div class="t" style="top:788.04px;font-size:12px;line-height:14.40px;color:#1c2b30;letter-spacing:-0.5px;left:157.4px;">DIESEL BACKUP GENERATED ELECTRICITY</div><svg class="r" style="left:413.5px;top:793px;" width="11" height="8" viewBox="0 0 11 8"><path d="M0.5,0.5 H10.5 L5.5,7.2 Z" fill="#161513"/></svg><div class="t" style="top:813.05px;font-size:12px;line-height:14.40px;color:#1c2b30;letter-spacing:-0.45px;right:1853.5px;text-align:right;">1.2M</div><div class="t" style="top:834.71px;font-size:12px;line-height:14.40px;color:#1c2b30;letter-spacing:-0.45px;right:1853.5px;text-align:right;">1M</div><div class="t" style="top:856.38px;font-size:12px;line-height:14.40px;color:#1c2b30;letter-spacing:-0.45px;right:1853.5px;text-align:right;">0.8M</div><div class="t" style="top:878.04px;font-size:12px;line-height:14.40px;color:#1c2b30;letter-spacing:-0.45px;right:1853.5px;text-align:right;">0.6M</div><div class="t" style="top:899.71px;font-size:12px;line-height:14.40px;color:#1c2b30;letter-spacing:-0.45px;right:1853.5px;text-align:right;">0.4M</div><div class="t" style="top:921.38px;font-size:12px;line-height:14.40px;color:#1c2b30;letter-spacing:-0.45px;right:1853.5px;text-align:right;">0.2M</div><div class="t" style="top:943.04px;font-size:12px;line-height:14.40px;color:#1c2b30;letter-spacing:-0.45px;right:1853.5px;text-align:right;">0</div><svg class="r" style="left:0;top:0;font-family:'Liberation Sans',sans-serif;" width="1920" height="1080" viewBox="0 0 1920 1080"><path d="M75.5,821 V951.5 H1703" fill="none" stroke="#86a2aa" stroke-width="1"/><text x="0" y="0" transform="translate(88.3,958.5) rotate(-90)" text-anchor="end" font-size="11.3" fill="#1c2b30" letter-spacing="-0.7">Q1</text><text x="0" y="0" transform="translate(99.1,959.5) rotate(-90)" text-anchor="end" font-size="12" fill="#1c2b30" letter-spacing="-0.1">Fisca...</text><text x="0" y="0" transform="translate(117.4,958.5) rotate(-90)" text-anchor="end" font-size="11.3" fill="#1c2b30" letter-spacing="-0.7">Q2</text><text x="0" y="0" transform="translate(128.2,959.5) rotate(-90)" text-anchor="end" font-size="12" fill="#1c2b30" letter-spacing="-0.1">Fisca...</text><text x="0" y="0" transform="translate(146.5,958.5) rotate(-90)" text-anchor="end" font-size="11.3" fill="#1c2b30" letter-spacing="-0.7">Q3</text><text x="0" y="0" transform="translate(157.3,959.5) rotate(-90)" text-anchor="end" font-size="12" fill="#1c2b30" letter-spacing="-0.1">Fisca...</text><text x="0" y="0" transform="translate(175.6,958.5) rotate(-90)" text-anchor="end" font-size="11.3" fill="#1c2b30" letter-spacing="-0.7">Q4</text><text x="0" y="0" transform="translate(186.3,959.5) rotate(-90)" text-anchor="end" font-size="12" fill="#1c2b30" letter-spacing="-0.1">Fisca...</text><text x="0" y="0" transform="translate(204.6,958.5) rotate(-90)" text-anchor="end" font-size="11.3" fill="#1c2b30" letter-spacing="-0.7">Q1</text><text x="0" y="0" transform="translate(215.4,959.5) rotate(-90)" text-anchor="end" font-size="12" fill="#1c2b30" letter-spacing="-0.1">Fisca...</text><text x="0" y="0" transform="translate(233.7,958.5) rotate(-90)" text-anchor="end" font-size="11.3" fill="#1c2b30" letter-spacing="-0.7">Q2</text><text x="0" y="0" transform="translate(244.5,959.5) rotate(-90)" text-anchor="end" font-size="12" fill="#1c2b30" letter-spacing="-0.1">Fisca...</text><text x="0" y="0" transform="translate(262.8,958.5) rotate(-90)" text-anchor="end" font-size="11.3" fill="#1c2b30" letter-spacing="-0.7">Q3</text><text x="0" y="0" transform="translate(273.6,959.5) rotate(-90)" text-anchor="end" font-size="12" fill="#1c2b30" letter-spacing="-0.1">Fisca...</text><text x="0" y="0" transform="translate(291.8,958.5) rotate(-90)" text-anchor="end" font-size="11.3" fill="#1c2b30" letter-spacing="-0.7">Q4</text><text x="0" y="0" transform="translate(302.6,959.5) rotate(-90)" text-anchor="end" font-size="12" fill="#1c2b30" letter-spacing="-0.1">Fisca...</text><text x="0" y="0" transform="translate(320.9,958.5) rotate(-90)" text-anchor="end" font-size="11.3" fill="#1c2b30" letter-spacing="-0.7">Q1</text><text x="0" y="0" transform="translate(331.7,959.5) rotate(-90)" text-anchor="end" font-size="12" fill="#1c2b30" letter-spacing="-0.1">Fisca...</text><text x="0" y="0" transform="translate(350.0,958.5) rotate(-90)" text-anchor="end" font-size="11.3" fill="#1c2b30" letter-spacing="-0.7">Q2</text><text x="0" y="0" transform="translate(360.8,959.5) rotate(-90)" text-anchor="end" font-size="12" fill="#1c2b30" letter-spacing="-0.1">Fisca...</text><text x="0" y="0" transform="translate(379.1,958.5) rotate(-90)" text-anchor="end" font-size="11.3" fill="#1c2b30" letter-spacing="-0.7">Q3</text><text x="0" y="0" transform="translate(389.9,959.5) rotate(-90)" text-anchor="end" font-size="12" fill="#1c2b30" letter-spacing="-0.1">Fisca...</text><text x="0" y="0" transform="translate(408.1,958.5) rotate(-90)" text-anchor="end" font-size="11.3" fill="#1c2b30" letter-spacing="-0.7">Q4</text><text x="0" y="0" transform="translate(418.9,959.5) rotate(-90)" text-anchor="end" font-size="12" fill="#1c2b30" letter-spacing="-0.1">Fisca...</text><text x="0" y="0" transform="translate(437.2,958.5) rotate(-90)" text-anchor="end" font-size="11.3" fill="#1c2b30" letter-spacing="-0.7">Q1</text><text x="0" y="0" transform="translate(448.0,959.5) rotate(-90)" text-anchor="end" font-size="12" fill="#1c2b30" letter-spacing="-0.1">Fisca...</text><text x="0" y="0" transform="translate(466.3,958.5) rotate(-90)" text-anchor="end" font-size="11.3" fill="#1c2b30" letter-spacing="-0.7">Q2</text><text x="0" y="0" transform="translate(477.1,959.5) rotate(-90)" text-anchor="end" font-size="12" fill="#1c2b30" letter-spacing="-0.1">Fisca...</text><text x="0" y="0" transform="translate(495.3,958.5) rotate(-90)" text-anchor="end" font-size="11.3" fill="#1c2b30" letter-spacing="-0.7">Q3</text><text x="0" y="0" transform="translate(506.1,959.5) rotate(-90)" text-anchor="end" font-size="12" fill="#1c2b30" letter-spacing="-0.1">Fisca...</text><text x="0" y="0" transform="translate(524.4,958.5) rotate(-90)" text-anchor="end" font-size="11.3" fill="#1c2b30" letter-spacing="-0.7">Q4</text><text x="0" y="0" transform="translate(535.2,959.5) rotate(-90)" text-anchor="end" font-size="12" fill="#1c2b30" letter-spacing="-0.1">Fisca...</text><text x="0" y="0" transform="translate(553.5,958.5) rotate(-90)" text-anchor="end" font-size="11.3" fill="#1c2b30" letter-spacing="-0.7">Q1</text><text x="0" y="0" transform="translate(564.3,959.5) rotate(-90)" text-anchor="end" font-size="12" fill="#1c2b30" letter-spacing="-0.1">Fisca...</text><text x="0" y="0" transform="translate(582.5,958.5) rotate(-90)" text-anchor="end" font-size="11.3" fill="#1c2b30" letter-spacing="-0.7">Q2</text><text x="0" y="0" transform="translate(593.4,959.5) rotate(-90)" text-anchor="end" font-size="12" fill="#1c2b30" letter-spacing="-0.1">Fisca...</text><text x="0" y="0" transform="translate(611.6,958.5) rotate(-90)" text-anchor="end" font-size="11.3" fill="#1c2b30" letter-spacing="-0.7">Q3</text><text x="0" y="0" transform="translate(622.4,959.5) rotate(-90)" text-anchor="end" font-size="12" fill="#1c2b30" letter-spacing="-0.1">Fisca...</text><text x="0" y="0" transform="translate(640.7,958.5) rotate(-90)" text-anchor="end" font-size="11.3" fill="#1c2b30" letter-spacing="-0.7">Q4</text><text x="0" y="0" transform="translate(651.5,959.5) rotate(-90)" text-anchor="end" font-size="12" fill="#1c2b30" letter-spacing="-0.1">Fisca...</text><text x="0" y="0" transform="translate(669.8,958.5) rotate(-90)" text-anchor="end" font-size="11.3" fill="#1c2b30" letter-spacing="-0.7">Q1</text><text x="0" y="0" transform="translate(680.6,959.5) rotate(-90)" text-anchor="end" font-size="12" fill="#1c2b30" letter-spacing="-0.1">Fisca...</text><text x="0" y="0" transform="translate(698.8,958.5) rotate(-90)" text-anchor="end" font-size="11.3" fill="#1c2b30" letter-spacing="-0.7">Q2</text><text x="0" y="0" transform="translate(709.6,959.5) rotate(-90)" text-anchor="end" font-size="12" fill="#1c2b30" letter-spacing="-0.1">Fisca...</text><text x="0" y="0" transform="translate(727.9,958.5) rotate(-90)" text-anchor="end" font-size="11.3" fill="#1c2b30" letter-spacing="-0.7">Q3</text><text x="0" y="0" transform="translate(738.7,959.5) rotate(-90)" text-anchor="end" font-size="12" fill="#1c2b30" letter-spacing="-0.1">Fisca...</text><text x="0" y="0" transform="translate(757.0,958.5) rotate(-90)" text-anchor="end" font-size="11.3" fill="#1c2b30" letter-spacing="-0.7">Q4</text><text x="0" y="0" transform="translate(767.8,959.5) rotate(-90)" text-anchor="end" font-size="12" fill="#1c2b30" letter-spacing="-0.1">Fisca...</text><text x="0" y="0" transform="translate(786.0,958.5) rotate(-90)" text-anchor="end" font-size="11.3" fill="#1c2b30" letter-spacing="-0.7">Q1</text><text x="0" y="0" transform="translate(796.9,959.5) rotate(-90)" text-anchor="end" font-size="12" fill="#1c2b30" letter-spacing="-0.1">Fisca...</text><text x="0" y="0" transform="translate(815.1,958.5) rotate(-90)" text-anchor="end" font-size="11.3" fill="#1c2b30" letter-spacing="-0.7">Q2</text><text x="0" y="0" transform="translate(825.9,959.5) rotate(-90)" text-anchor="end" font-size="12" fill="#1c2b30" letter-spacing="-0.1">Fisca...</text><text x="0" y="0" transform="translate(844.2,958.5) rotate(-90)" text-anchor="end" font-size="11.3" fill="#1c2b30" letter-spacing="-0.7">Q3</text><text x="0" y="0" transform="translate(855.0,959.5) rotate(-90)" text-anchor="end" font-size="12" fill="#1c2b30" letter-spacing="-0.1">Fisca...</text><text x="0" y="0" transform="translate(873.3,958.5) rotate(-90)" text-anchor="end" font-size="11.3" fill="#1c2b30" letter-spacing="-0.7">Q4</text><text x="0" y="0" transform="translate(884.1,959.5) rotate(-90)" text-anchor="end" font-size="12" fill="#1c2b30" letter-spacing="-0.1">Fisca...</text><text x="0" y="0" transform="translate(902.3,958.5) rotate(-90)" text-anchor="end" font-size="11.3" fill="#1c2b30" letter-spacing="-0.7">Q1</text><text x="0" y="0" transform="translate(913.1,959.5) rotate(-90)" text-anchor="end" font-size="12" fill="#1c2b30" letter-spacing="-0.1">Fisca...</text><text x="0" y="0" transform="translate(931.4,958.5) rotate(-90)" text-anchor="end" font-size="11.3" fill="#1c2b30" letter-spacing="-0.7">Q2</text><text x="0" y="0" transform="translate(942.2,959.5) rotate(-90)" text-anchor="end" font-size="12" fill="#1c2b30" letter-spacing="-0.1">Fisca...</text><text x="0" y="0" transform="translate(960.5,958.5) rotate(-90)" text-anchor="end" font-size="11.3" fill="#1c2b30" letter-spacing="-0.7">Q3</text><text x="0" y="0" transform="translate(971.3,959.5) rotate(-90)" text-anchor="end" font-size="12" fill="#1c2b30" letter-spacing="-0.1">Fisca...</text><text x="0" y="0" transform="translate(989.5,958.5) rotate(-90)" text-anchor="end" font-size="11.3" fill="#1c2b30" letter-spacing="-0.7">Q4</text><text x="0" y="0" transform="translate(1000.4,959.5) rotate(-90)" text-anchor="end" font-size="12" fill="#1c2b30" letter-spacing="-0.1">Fisca...</text><text x="0" y="0" transform="translate(1018.6,958.5) rotate(-90)" text-anchor="end" font-size="11.3" fill="#1c2b30" letter-spacing="-0.7">Q1</text><text x="0" y="0" transform="translate(1029.4,959.5) rotate(-90)" text-anchor="end" font-size="12" fill="#1c2b30" letter-spacing="-0.1">Fisca...</text><text x="0" y="0" transform="translate(1047.7,958.5) rotate(-90)" text-anchor="end" font-size="11.3" fill="#1c2b30" letter-spacing="-0.7">Q2</text><text x="0" y="0" transform="translate(1058.5,959.5) rotate(-90)" text-anchor="end" font-size="12" fill="#1c2b30" letter-spacing="-0.1">Fisca...</text><text x="0" y="0" transform="translate(1076.8,958.5) rotate(-90)" text-anchor="end" font-size="11.3" fill="#1c2b30" letter-spacing="-0.7">Q3</text><text x="0" y="0" transform="translate(1087.6,959.5) rotate(-90)" text-anchor="end" font-size="12" fill="#1c2b30" letter-spacing="-0.1">Fisca...</text><text x="0" y="0" transform="translate(1105.8,958.5) rotate(-90)" text-anchor="end" font-size="11.3" fill="#1c2b30" letter-spacing="-0.7">Q4</text><text x="0" y="0" transform="translate(1116.6,959.5) rotate(-90)" text-anchor="end" font-size="12" fill="#1c2b30" letter-spacing="-0.1">Fisca...</text><text x="0" y="0" transform="translate(1134.9,958.5) rotate(-90)" text-anchor="end" font-size="11.3" fill="#1c2b30" letter-spacing="-0.7">Q1</text><text x="0" y="0" transform="translate(1145.7,959.5) rotate(-90)" text-anchor="end" font-size="12" fill="#1c2b30" letter-spacing="-0.1">Fisca...</text><text x="0" y="0" transform="translate(1164.0,958.5) rotate(-90)" text-anchor="end" font-size="11.3" fill="#1c2b30" letter-spacing="-0.7">Q2</text><text x="0" y="0" transform="translate(1174.8,959.5) rotate(-90)" text-anchor="end" font-size="12" fill="#1c2b30" letter-spacing="-0.1">Fisca...</text><text x="0" y="0" transform="translate(1193.0,958.5) rotate(-90)" text-anchor="end" font-size="11.3" fill="#1c2b30" letter-spacing="-0.7">Q3</text><text x="0" y="0" transform="translate(1203.8,959.5) rotate(-90)" text-anchor="end" font-size="12" fill="#1c2b30" letter-spacing="-0.1">Fisca...</text><text x="0" y="0" transform="translate(1222.1,958.5) rotate(-90)" text-anchor="end" font-size="11.3" fill="#1c2b30" letter-spacing="-0.7">Q4</text><text x="0" y="0" transform="translate(1232.9,959.5) rotate(-90)" text-anchor="end" font-size="12" fill="#1c2b30" letter-spacing="-0.1">Fisca...</text><text x="0" y="0" transform="translate(1251.2,958.5) rotate(-90)" text-anchor="end" font-size="11.3" fill="#1c2b30" letter-spacing="-0.7">Q1</text><text x="0" y="0" transform="translate(1262.0,959.5) rotate(-90)" text-anchor="end" font-size="12" fill="#1c2b30" letter-spacing="-0.1">Fisca...</text><text x="0" y="0" transform="translate(1280.3,958.5) rotate(-90)" text-anchor="end" font-size="11.3" fill="#1c2b30" letter-spacing="-0.7">Q2</text><text x="0" y="0" transform="translate(1291.1,959.5) rotate(-90)" text-anchor="end" font-size="12" fill="#1c2b30" letter-spacing="-0.1">Fisca...</text><text x="0" y="0" transform="translate(1309.3,958.5) rotate(-90)" text-anchor="end" font-size="11.3" fill="#1c2b30" letter-spacing="-0.7">Q3</text><text x="0" y="0" transform="translate(1320.1,959.5) rotate(-90)" text-anchor="end" font-size="12" fill="#1c2b30" letter-spacing="-0.1">Fisca...</text><text x="0" y="0" transform="translate(1338.4,958.5) rotate(-90)" text-anchor="end" font-size="11.3" fill="#1c2b30" letter-spacing="-0.7">Q4</text><text x="0" y="0" transform="translate(1349.2,959.5) rotate(-90)" text-anchor="end" font-size="12" fill="#1c2b30" letter-spacing="-0.1">Fisca...</text><text x="0" y="0" transform="translate(1367.5,958.5) rotate(-90)" text-anchor="end" font-size="11.3" fill="#1c2b30" letter-spacing="-0.7">Q1</text><text x="0" y="0" transform="translate(1378.3,959.5) rotate(-90)" text-anchor="end" font-size="12" fill="#1c2b30" letter-spacing="-0.1">Fisca...</text><text x="0" y="0" transform="translate(1396.5,958.5) rotate(-90)" text-anchor="end" font-size="11.3" fill="#1c2b30" letter-spacing="-0.7">Q2</text><text x="0" y="0" transform="translate(1407.3,959.5) rotate(-90)" text-anchor="end" font-size="12" fill="#1c2b30" letter-spacing="-0.1">Fisca...</text><text x="0" y="0" transform="translate(1425.6,958.5) rotate(-90)" text-anchor="end" font-size="11.3" fill="#1c2b30" letter-spacing="-0.7">Q3</text><text x="0" y="0" transform="translate(1436.4,959.5) rotate(-90)" text-anchor="end" font-size="12" fill="#1c2b30" letter-spacing="-0.1">Fisca...</text><text x="0" y="0" transform="translate(1454.7,958.5) rotate(-90)" text-anchor="end" font-size="11.3" fill="#1c2b30" letter-spacing="-0.7">Q4</text><text x="0" y="0" transform="translate(1465.5,959.5) rotate(-90)" text-anchor="end" font-size="12" fill="#1c2b30" letter-spacing="-0.1">Fisca...</text><text x="0" y="0" transform="translate(1483.8,958.5) rotate(-90)" text-anchor="end" font-size="11.3" fill="#1c2b30" letter-spacing="-0.7">Q1</text><text x="0" y="0" transform="translate(1494.6,959.5) rotate(-90)" text-anchor="end" font-size="12" fill="#1c2b30" letter-spacing="-0.1">Fisca...</text><text x="0" y="0" transform="translate(1512.8,958.5) rotate(-90)" text-anchor="end" font-size="11.3" fill="#1c2b30" letter-spacing="-0.7">Q2</text><text x="0" y="0" transform="translate(1523.6,959.5) rotate(-90)" text-anchor="end" font-size="12" fill="#1c2b30" letter-spacing="-0.1">Fisca...</text><text x="0" y="0" transform="translate(1541.9,958.5) rotate(-90)" text-anchor="end" font-size="11.3" fill="#1c2b30" letter-spacing="-0.7">Q3</text><text x="0" y="0" transform="translate(1552.7,959.5) rotate(-90)" text-anchor="end" font-size="12" fill="#1c2b30" letter-spacing="-0.1">Fisca...</text><text x="0" y="0" transform="translate(1571.0,958.5) rotate(-90)" text-anchor="end" font-size="11.3" fill="#1c2b30" letter-spacing="-0.7">Q4</text><text x="0" y="0" transform="translate(1581.8,959.5) rotate(-90)" text-anchor="end" font-size="12" fill="#1c2b30" letter-spacing="-0.1">Fisca...</text><text x="0" y="0" transform="translate(1600.0,958.5) rotate(-90)" text-anchor="end" font-size="11.3" fill="#1c2b30" letter-spacing="-0.7">Q1</text><text x="0" y="0" transform="translate(1610.8,959.5) rotate(-90)" text-anchor="end" font-size="12" fill="#1c2b30" letter-spacing="-0.1">Fisca...</text><text x="0" y="0" transform="translate(1629.1,958.5) rotate(-90)" text-anchor="end" font-size="11.3" fill="#1c2b30" letter-spacing="-0.7">Q2</text><text x="0" y="0" transform="translate(1639.9,959.5) rotate(-90)" text-anchor="end" font-size="12" fill="#1c2b30" letter-spacing="-0.1">Fisca...</text><text x="0" y="0" transform="translate(1658.2,958.5) rotate(-90)" text-anchor="end" font-size="11.3" fill="#1c2b30" letter-spacing="-0.7">Q3</text><text x="0" y="0" transform="translate(1669.0,959.5) rotate(-90)" text-anchor="end" font-size="12" fill="#1c2b30" letter-spacing="-0.1">Fisca...</text><text x="0" y="0" transform="translate(1687.3,958.5) rotate(-90)" text-anchor="end" font-size="11.3" fill="#1c2b30" letter-spacing="-0.7">Q4</text><text x="0" y="0" transform="translate(1698.1,959.5) rotate(-90)" text-anchor="end" font-size="12" fill="#1c2b30" letter-spacing="-0.1">Fisca...</text><path d="M75.5,978 V1011.5 H86.0 M180.3,1011.5 H191.8" fill="none" stroke="#8eabb3" stroke-width="1"/><text x="133.1" y="1013.3" text-anchor="middle" font-size="12" fill="#1c2b30" letter-spacing="-0.3">FY 23 - CY 2022</text><path d="M191.8,978 V1011.5 H202.3 M296.6,1011.5 H308.1" fill="none" stroke="#8eabb3" stroke-width="1"/><text x="249.4" y="1013.3" text-anchor="middle" font-size="12" fill="#1c2b30" letter-spacing="-0.3">FY 24 - CY 2023</text><path d="M308.1,978 V1011.5 H318.6 M412.9,1011.5 H424.4" fill="none" stroke="#8eabb3" stroke-width="1"/><text x="365.7" y="1013.3" text-anchor="middle" font-size="12" fill="#1c2b30" letter-spacing="-0.3">FY 25 - CY 2024</text><path d="M424.4,978 V1011.5 H434.9 M529.1,1011.5 H540.6" fill="none" stroke="#8eabb3" stroke-width="1"/><text x="482.0" y="1013.3" text-anchor="middle" font-size="12" fill="#1c2b30" letter-spacing="-0.3">FY 26 - CY 2025</text><path d="M540.6,978 V1011.5 H551.1 M645.4,1011.5 H656.9" fill="none" stroke="#8eabb3" stroke-width="1"/><text x="598.3" y="1013.3" text-anchor="middle" font-size="12" fill="#1c2b30" letter-spacing="-0.3">FY 27 - CY 2026</text><path d="M656.9,978 V1011.5 H667.4 M761.7,1011.5 H773.2" fill="none" stroke="#8eabb3" stroke-width="1"/><text x="714.6" y="1013.3" text-anchor="middle" font-size="12" fill="#1c2b30" letter-spacing="-0.3">FY 28 - CY 2027</text><path d="M773.2,978 V1011.5 H783.7 M878.0,1011.5 H889.5" fill="none" stroke="#8eabb3" stroke-width="1"/><text x="830.9" y="1013.3" text-anchor="middle" font-size="12" fill="#1c2b30" letter-spacing="-0.3">FY 29 - CY 2028</text><path d="M889.5,978 V1011.5 H900.0 M994.3,1011.5 H1005.8" fill="none" stroke="#8eabb3" stroke-width="1"/><text x="947.1" y="1013.3" text-anchor="middle" font-size="12" fill="#1c2b30" letter-spacing="-0.3">FY 30 - CY 2029</text><path d="M1005.8,978 V1011.5 H1016.3 M1110.6,1011.5 H1122.1" fill="none" stroke="#8eabb3" stroke-width="1"/><text x="1063.4" y="1013.3" text-anchor="middle" font-size="12" fill="#1c2b30" letter-spacing="-0.3">FY 31 - CY 2030</text><path d="M1122.1,978 V1011.5 H1132.6 M1226.9,1011.5 H1238.4" fill="none" stroke="#8eabb3" stroke-width="1"/><text x="1179.7" y="1013.3" text-anchor="middle" font-size="12" fill="#1c2b30" letter-spacing="-0.3">FY 32 - CY 2031</text><path d="M1238.4,978 V1011.5 H1248.9 M1343.1,1011.5 H1354.6" fill="none" stroke="#8eabb3" stroke-width="1"/><text x="1296.0" y="1013.3" text-anchor="middle" font-size="12" fill="#1c2b30" letter-spacing="-0.3">FY 33 - CY 2032</text><path d="M1354.6,978 V1011.5 H1365.1 M1459.4,1011.5 H1470.9" fill="none" stroke="#8eabb3" stroke-width="1"/><text x="1412.3" y="1013.3" text-anchor="middle" font-size="12" fill="#1c2b30" letter-spacing="-0.3">FY 34 - CY 2033</text><path d="M1470.9,978 V1011.5 H1481.4 M1575.7,1011.5 H1587.2" fill="none" stroke="#8eabb3" stroke-width="1"/><text x="1528.6" y="1013.3" text-anchor="middle" font-size="12" fill="#1c2b30" letter-spacing="-0.3">FY 35 - CY 2034</text><path d="M1587.2,978 V1011.5 H1597.7 M1692.0,1011.5 H1703.5" fill="none" stroke="#8eabb3" stroke-width="1"/><text x="1644.9" y="1013.3" text-anchor="middle" font-size="12" fill="#1c2b30" letter-spacing="-0.3">FY 36 - CY 2035</text><path d="M1703.5,978 V1011.5" fill="none" stroke="#8eabb3" stroke-width="1"/><polyline points="89.5,879.4 118.6,880.0 147.7,879.4 176.8,879.0 205.8,877.4 234.9,872.5 264.0,926.7" fill="none" stroke="#5a2d52" stroke-width="3" stroke-linejoin="round" stroke-linecap="butt"/><polyline points="89.5,878.3 118.6,878.8 147.7,881.5 176.8,879.4 205.8,881.5 234.9,871.8 264.0,872.2 293.0,876.0 322.1,874.6 351.2,874.6 380.2,874.6 409.3,874.6 438.4,874.6 467.5,874.6 496.5,874.6 525.6,874.6 554.7,874.6 583.8,874.6 612.8,874.6 641.9,874.6 671.0,874.6 700.0,874.6 729.1,874.6 758.2,874.6 787.2,874.6 816.3,874.6 845.4,874.6 874.5,874.6 903.5,874.6 932.6,874.6 961.7,874.6 990.8,874.6 1019.8,874.6 1048.9,874.6 1078.0,874.6 1107.0,874.6 1136.1,874.6 1165.2,874.6 1194.2,874.6 1223.3,874.6 1252.4,874.6 1281.5,874.6 1310.5,874.6 1339.6,874.6 1368.7,874.6 1397.8,874.6 1426.8,874.6 1455.9,874.6 1485.0,874.6 1514.0,874.6 1543.1,874.6 1572.2,874.6 1601.2,874.6 1630.3,874.6 1659.4,925.0" fill="none" stroke="#56612f" stroke-width="3" stroke-linejoin="round" stroke-linecap="butt"/><polyline points="89.5,872.5 118.6,873.6 147.7,877.4 176.8,878.3 205.8,871.1 234.9,870.7 264.0,871.1 293.0,867.0 322.1,860.3 351.2,858.1 380.2,854.5 409.3,849.4 438.4,841.8 467.5,840.6 496.5,837.0 525.6,831.9 554.7,909.9" fill="none" stroke="#4b7682" stroke-width="3" stroke-linejoin="round" stroke-linecap="butt"/><polyline points="89.5,883.6 118.6,887.8 147.7,894.0 176.8,898.2 205.8,899.6 234.9,905.6 264.0,894.7 293.0,893.0 322.1,896.5 351.2,901.9 380.2,906.3 409.3,911.4 438.4,913.8 467.5,920.8 496.5,924.5 525.6,928.9 554.7,944.5" fill="none" stroke="#864a7c" stroke-width="3" stroke-linejoin="round" stroke-linecap="butt"/><polyline points="89.5,877.4 118.6,879.4 147.7,885.0 176.8,888.5 205.8,885.0 234.9,887.8 264.0,882.2 293.0,880.1 322.1,877.8 351.2,880.4 380.2,880.7 409.3,880.7 438.4,877.8 467.5,880.7 496.5,880.7 525.6,880.7 554.7,927.4" fill="none" stroke="#84944f" stroke-width="3" stroke-linejoin="round" stroke-linecap="butt"/><rect x="1722" y="849.9" width="10" height="3" fill="#5a2d52"/><text x="1738.3" y="853.8" font-size="12" fill="#1c2b30">Actual Sample Actual</text><rect x="1722" y="867.9" width="10" height="3" fill="#56612f"/><text x="1738.3" y="871.8" font-size="12" fill="#1c2b30">Plan Sample Plan</text><rect x="1722" y="885.9" width="10" height="3" fill="#4b7682"/><text x="1738.3" y="889.8" font-size="12" fill="#1c2b30">Auto Forecast Best Case</text><rect x="1722" y="903.9" width="10" height="3" fill="#864a7c"/><text x="1738.3" y="907.8" font-size="12" fill="#1c2b30">Auto Forecast Worst Case</text><rect x="1722" y="921.9" width="10" height="3" fill="#84944f"/><text x="1738.3" y="925.8" font-size="12" fill="#1c2b30">Auto Forecast Most Likely</text></svg>
</body></html>
